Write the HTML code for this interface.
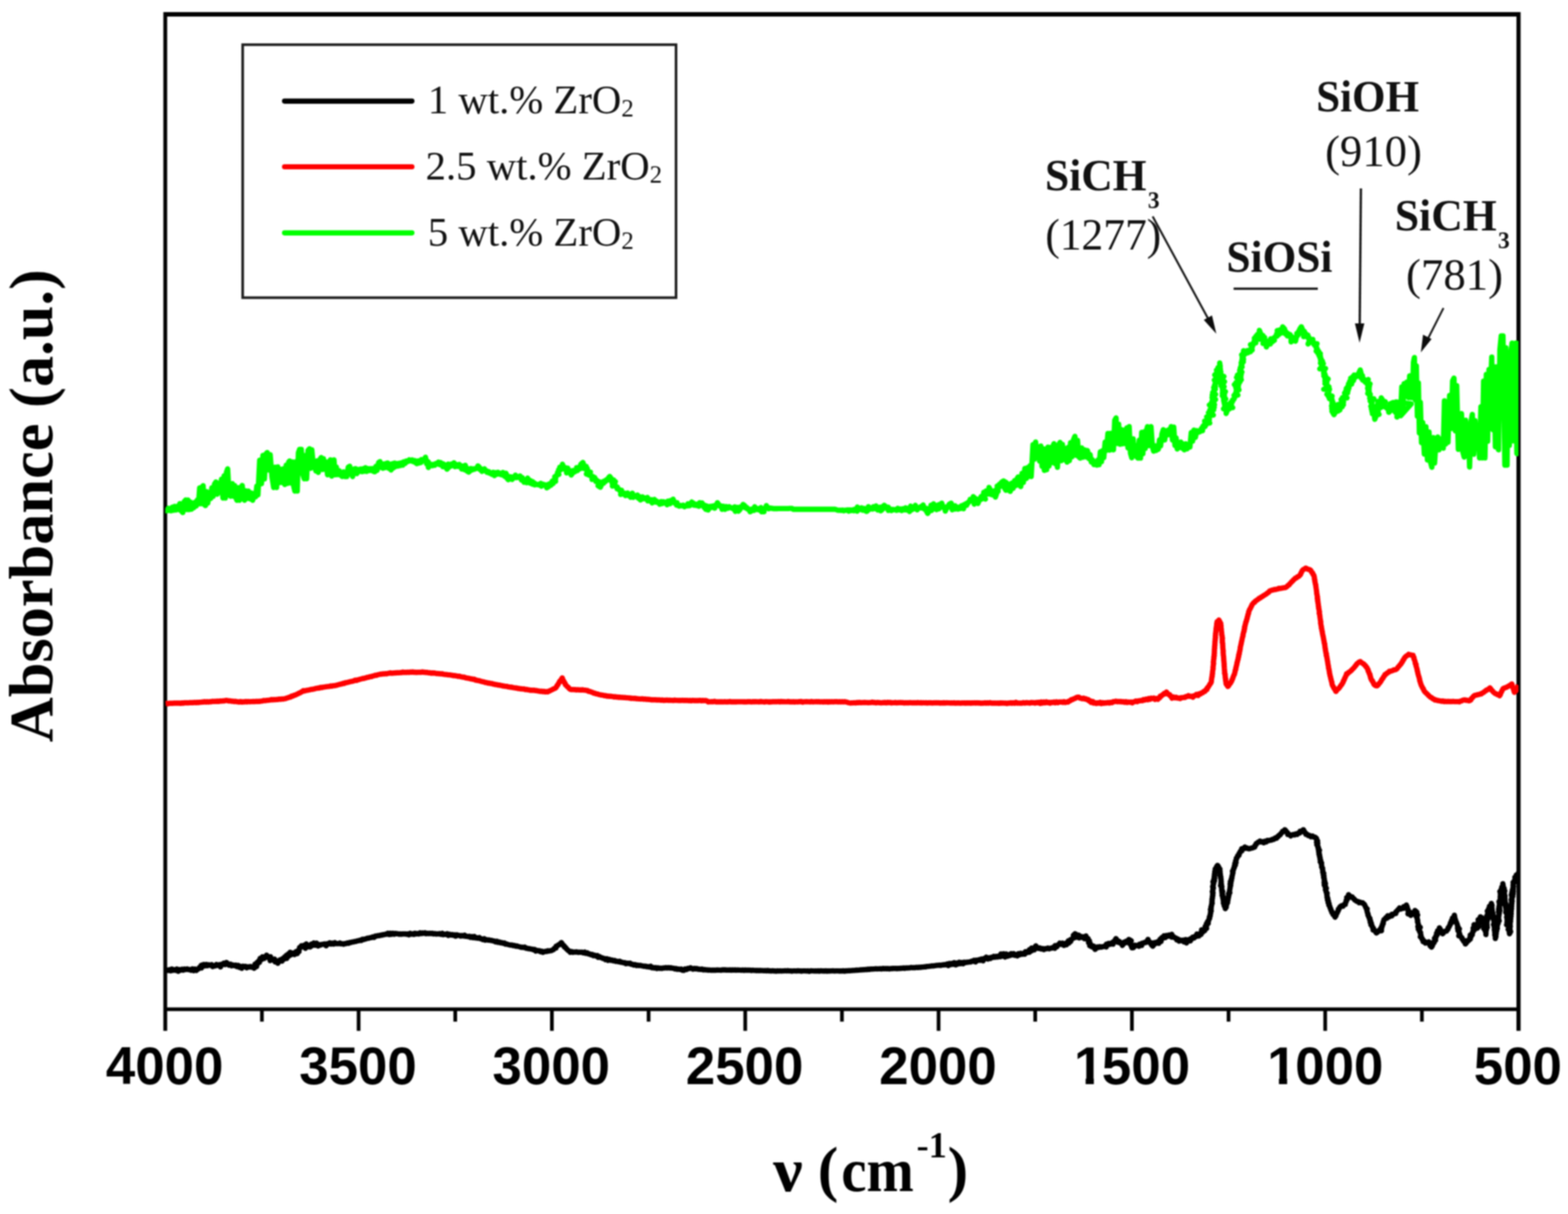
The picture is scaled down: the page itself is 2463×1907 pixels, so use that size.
<!DOCTYPE html>
<html lang="en">
<head>
<meta charset="utf-8">
<title>FTIR absorbance spectra</title>
<style>
html,body{margin:0;padding:0;background:#fff;}
body{width:2463px;height:1907px;overflow:hidden;}
svg{display:block;filter:blur(0.9px);}
.sans{font-family:"Liberation Sans",Arial,sans-serif;font-weight:bold;}
.serif{font-family:"Liberation Serif","Times New Roman",serif;}
.b{font-weight:bold;}
</style>
</head>
<body>
<svg width="2463" height="1907" viewBox="0 0 2463 1907">
<rect x="0" y="0" width="2463" height="1907" fill="#fff"/>
<defs><clipPath id="plot"><rect x="259.6" y="0" width="2125.7" height="1700"/></clipPath></defs>
<!-- frame -->
<g fill="none" stroke="#000">
<line x1="259.6" y1="19.1" x2="259.6" y2="1619.3" stroke-width="6"/>
<line x1="2385.3" y1="19.1" x2="2385.3" y2="1619.3" stroke-width="6.5"/>
<line x1="259.6" y1="22.5" x2="2385.3" y2="22.5" stroke-width="6.9"/>
<line x1="259.6" y1="1585.4" x2="2385.3" y2="1585.4" stroke-width="5.8"/>
</g>
<g fill="none" stroke="#000" stroke-width="5.8">
<line x1="411.4" y1="1585.4" x2="411.4" y2="1604.8"/>
<line x1="563.3" y1="1585.4" x2="563.3" y2="1619.3"/>
<line x1="715.1" y1="1585.4" x2="715.1" y2="1604.8"/>
<line x1="866.9" y1="1585.4" x2="866.9" y2="1619.3"/>
<line x1="1018.8" y1="1585.4" x2="1018.8" y2="1604.8"/>
<line x1="1170.6" y1="1585.4" x2="1170.6" y2="1619.3"/>
<line x1="1322.5" y1="1585.4" x2="1322.5" y2="1604.8"/>
<line x1="1474.3" y1="1585.4" x2="1474.3" y2="1619.3"/>
<line x1="1626.1" y1="1585.4" x2="1626.1" y2="1604.8"/>
<line x1="1778.0" y1="1585.4" x2="1778.0" y2="1619.3"/>
<line x1="1929.8" y1="1585.4" x2="1929.8" y2="1604.8"/>
<line x1="2081.6" y1="1585.4" x2="2081.6" y2="1619.3"/>
<line x1="2233.5" y1="1585.4" x2="2233.5" y2="1604.8"/>
</g>
<!-- curves -->
<g clip-path="url(#plot)" fill="none" stroke-linejoin="round" stroke-linecap="butt" stroke-width="8.3">
<path id="c-green" stroke="#00ff00" d="M259.1 798.6 L260.7 802.1 L262.3 802.4 L264.5 798.3 L266.6 802.0 L268.7 802.4 L270.6 796.6 L272.4 801.5 L274.2 795.5 L276.1 801.2 L277.9 795.3 L280.2 800.5 L282.5 791.1 L284.8 802.7 L287.1 805.2 L289.3 788.0 L291.6 785.5 L293.5 800.4 L295.3 785.5 L297.1 800.5 L299.0 788.6 L300.8 799.8 L302.6 791.0 L304.5 797.5 L306.3 789.0 L308.1 794.9 L309.9 785.5 L311.8 791.5 L313.6 766.5 L315.4 791.3 L317.3 765.1 L319.1 763.0 L320.9 792.7 L322.8 794.2 L324.6 772.3 L326.4 790.2 L328.7 773.8 L331.0 783.0 L332.8 766.2 L334.7 779.7 L337.0 760.3 L339.2 757.1 L341.1 776.3 L342.9 759.6 L345.7 773.4 L347.9 752.7 L350.2 782.3 L352.1 747.4 L353.9 782.3 L355.7 741.8 L357.6 736.5 L359.9 777.5 L362.1 779.5 L364.9 759.6 L366.7 779.6 L368.6 762.8 L370.4 781.4 L372.2 785.9 L374.0 766.1 L375.9 785.9 L378.2 766.0 L380.5 762.6 L382.3 782.5 L384.1 785.9 L386.0 771.0 L387.8 783.2 L390.1 771.3 L392.4 783.7 L394.7 774.3 L396.9 785.9 L399.2 775.1 L401.5 780.5 L403.4 763.6 L405.2 777.4 L407.9 722.8 L410.7 759.8 L413.0 715.4 L415.3 752.4 L417.5 713.5 L419.8 710.8 L422.1 738.3 L424.4 714.3 L427.2 749.0 L429.9 765.8 L432.2 733.8 L434.5 765.8 L436.3 733.5 L438.2 758.2 L440.4 737.1 L442.7 757.8 L445.0 736.4 L447.3 761.0 L449.6 730.6 L451.9 759.4 L453.4 725.8 L455.0 724.1 L457.3 758.9 L459.6 725.7 L461.4 764.0 L463.2 771.4 L465.1 725.2 L466.9 771.4 L468.7 711.3 L470.6 705.9 L473.3 705.9 L475.6 744.5 L477.9 752.1 L479.7 715.5 L481.6 752.1 L483.8 707.5 L486.1 704.9 L488.0 735.6 L489.8 706.7 L492.5 734.3 L494.4 728.7 L496.2 739.9 L498.0 724.0 L499.9 742.0 L502.2 722.2 L504.5 718.7 L506.3 737.5 L508.1 720.6 L509.9 737.1 L512.2 725.5 L514.5 745.8 L516.8 725.8 L519.1 722.3 L520.9 747.8 L522.8 724.6 L524.6 722.3 L526.4 745.9 L528.3 733.6 L530.5 745.6 L532.8 739.4 L535.1 746.4 L537.4 748.5 L539.7 741.2 L542.0 748.5 L544.7 748.5 L547.0 734.0 L549.3 732.4 L551.6 744.3 L553.9 748.5 L556.2 736.8 L558.5 736.1 L560.6 744.0 L562.8 737.5 L564.9 740.6 L566.7 736.7 L568.6 741.0 L570.4 736.2 L572.2 740.3 L574.0 734.7 L575.9 740.6 L577.7 736.0 L579.5 739.4 L581.4 736.2 L583.2 739.1 L585.0 736.1 L586.9 740.5 L588.7 741.1 L590.5 732.4 L592.4 738.8 L594.7 726.7 L596.9 725.1 L599.2 734.4 L601.5 735.6 L603.4 728.7 L605.2 734.5 L607.0 727.8 L608.8 727.4 L610.7 735.7 L612.5 729.3 L614.3 738.4 L616.2 728.4 L618.0 735.1 L619.8 727.4 L621.7 732.9 L623.5 728.1 L625.3 732.2 L627.2 727.6 L629.0 731.3 L630.8 726.8 L632.7 730.7 L634.5 725.3 L636.3 728.1 L638.2 724.2 L640.4 725.1 L642.7 722.3 L645.0 724.1 L647.3 722.3 L649.2 725.3 L651.2 723.3 L653.1 727.2 L655.0 728.3 L657.0 724.0 L659.0 727.2 L661.6 726.3 L661.9 721.8 L665.0 723.8 L666.3 721.7 L668.3 718.2 L669.4 722.7 L669.8 724.6 L672.6 725.2 L670.1 728.6 L672.4 729.4 L672.9 734.3 L674.9 731.0 L676.6 729.1 L679.1 731.7 L680.7 729.5 L683.0 730.9 L684.5 728.2 L686.6 728.5 L688.7 725.8 L690.2 729.8 L692.3 726.6 L693.8 731.0 L696.3 728.7 L695.7 733.2 L699.8 730.5 L700.1 733.6 L702.2 737.0 L704.5 734.5 L703.8 729.0 L707.6 732.4 L708.7 729.0 L710.6 731.4 L713.0 727.0 L714.8 733.1 L717.0 729.7 L719.0 732.8 L721.3 729.5 L723.0 731.8 L725.3 732.0 L725.1 736.8 L730.9 730.9 L729.7 737.8 L733.2 734.9 L733.3 739.8 L736.1 741.6 L738.3 740.0 L739.4 736.0 L741.8 738.2 L743.3 736.4 L745.4 737.0 L747.1 735.9 L749.0 735.8 L750.7 731.9 L753.1 734.1 L754.0 737.6 L756.3 736.8 L757.1 740.5 L760.9 736.3 L761.7 739.6 L764.1 739.3 L765.1 742.0 L767.8 740.9 L769.0 743.3 L770.8 743.6 L772.8 745.1 L774.4 741.8 L776.6 747.2 L778.1 742.4 L780.2 745.0 L782.1 741.9 L783.5 744.7 L785.7 743.5 L787.1 745.6 L789.9 742.1 L790.7 746.9 L794.8 743.4 L793.1 748.6 L796.7 746.8 L796.0 750.6 L798.4 753.5 L800.2 750.6 L801.9 749.0 L804.4 753.1 L805.7 749.2 L807.8 750.7 L809.6 746.3 L811.0 750.3 L813.0 748.6 L814.7 750.2 L816.8 747.6 L818.3 749.7 L820.6 750.5 L819.1 754.1 L822.9 753.6 L823.2 757.6 L825.1 755.8 L827.3 758.4 L828.8 751.0 L831.2 756.0 L833.3 754.9 L832.8 759.2 L836.6 756.6 L836.3 760.6 L839.6 758.7 L840.0 761.6 L842.2 760.8 L844.1 761.4 L845.9 760.8 L847.9 762.3 L849.5 759.2 L850.4 763.8 L853.5 760.8 L855.1 762.0 L857.3 761.7 L858.8 766.3 L861.8 764.4 L862.1 760.5 L865.4 762.3 L865.7 758.3 L868.8 759.6 L867.5 755.8 L872.8 756.2 L870.8 753.0 L872.8 751.7 L871.4 748.8 L873.9 747.8 L874.5 745.8 L877.9 745.3 L875.9 742.1 L877.6 740.8 L877.4 738.0 L880.8 738.1 L879.3 734.0 L884.0 735.4 L883.5 729.2 L885.0 733.2 L886.0 734.8 L888.5 734.7 L888.0 738.1 L891.8 735.3 L890.0 742.9 L894.7 739.0 L895.3 742.2 L897.3 746.2 L899.5 743.1 L899.9 739.1 L903.0 741.1 L904.0 738.2 L907.0 739.3 L905.7 734.6 L910.5 736.7 L910.2 733.1 L915.2 735.5 L912.4 729.1 L915.6 726.5 L917.1 730.7 L917.0 733.1 L920.8 732.6 L918.9 736.3 L922.6 736.0 L921.7 739.0 L923.8 739.7 L921.1 744.6 L927.5 741.6 L925.0 746.4 L928.0 746.3 L928.7 748.3 L931.1 748.3 L930.0 753.2 L934.2 750.2 L934.4 753.3 L936.4 753.5 L936.0 756.4 L939.3 756.0 L939.6 758.2 L942.4 758.2 L939.5 763.0 L943.0 765.4 L944.9 761.4 L944.0 757.3 L948.3 758.9 L948.4 756.0 L951.0 756.4 L952.1 754.0 L954.4 754.1 L955.3 751.2 L957.7 748.4 L960.2 751.8 L959.7 754.8 L963.8 753.8 L961.4 758.6 L966.7 756.5 L961.9 763.5 L966.5 762.1 L967.0 764.5 L969.6 765.0 L969.5 768.0 L972.1 768.4 L973.0 770.4 L976.4 770.1 L974.9 776.7 L978.0 773.6 L979.2 776.1 L981.7 774.8 L982.5 778.5 L985.9 774.4 L986.7 778.3 L988.9 777.2 L990.5 781.2 L993.4 774.7 L994.6 781.3 L997.0 778.8 L998.9 780.2 L1001.3 777.6 L1002.7 782.6 L1005.1 780.4 L1005.9 785.4 L1009.2 780.5 L1010.3 783.6 L1012.7 782.2 L1014.3 783.7 L1016.9 781.3 L1017.4 786.8 L1020.0 784.4 L1021.2 787.2 L1023.9 784.8 L1024.4 790.1 L1027.9 784.5 L1028.8 788.6 L1031.1 787.2 L1032.5 789.3 L1034.6 788.8 L1036.4 792.2 L1038.5 787.8 L1040.3 791.0 L1042.4 788.2 L1044.2 790.0 L1046.2 788.6 L1047.9 792.9 L1049.1 787.2 L1052.5 791.3 L1052.9 786.3 L1055.9 789.0 L1057.3 784.1 L1058.9 788.5 L1060.0 790.4 L1063.5 789.6 L1062.7 793.5 L1064.7 792.9 L1066.8 795.1 L1068.9 793.9 L1071.1 794.6 L1073.2 793.5 L1075.3 795.9 L1077.4 794.4 L1079.5 794.6 L1080.6 791.3 L1083.4 794.4 L1084.6 791.6 L1086.6 788.7 L1088.8 790.2 L1090.1 793.6 L1092.2 792.2 L1093.8 794.2 L1095.6 791.8 L1097.8 795.3 L1099.1 789.6 L1101.3 793.7 L1102.9 790.0 L1103.7 794.5 L1106.6 793.5 L1106.2 797.3 L1110.1 794.7 L1108.8 800.0 L1112.3 801.1 L1114.3 798.1 L1115.5 795.4 L1118.1 797.2 L1119.4 794.8 L1122.7 798.3 L1123.2 794.0 L1125.4 794.2 L1126.9 789.6 L1129.2 792.9 L1130.5 795.1 L1133.1 794.9 L1134.2 800.1 L1136.4 795.2 L1138.6 800.1 L1140.8 795.7 L1143.0 798.5 L1145.5 795.9 L1147.3 797.7 L1149.5 797.7 L1151.4 799.2 L1154.1 796.1 L1155.0 803.3 L1158.2 797.0 L1159.9 803.0 L1162.5 800.2 L1162.9 796.4 L1165.4 796.6 L1167.2 792.4 L1169.9 794.3 L1170.7 797.6 L1173.2 797.1 L1174.2 799.8 L1176.5 799.6 L1178.2 803.9 L1180.5 802.6 L1181.7 799.4 L1184.2 801.8 L1185.5 796.0 L1187.4 799.1 L1189.1 800.4 L1191.2 799.0 L1192.7 801.3 L1195.2 797.2 L1196.5 803.9 L1200.1 803.8 L1200.1 798.8 L1202.2 798.6 L1203.8 794.2 L1205.7 797.2 L1207.3 799.1 L1209.4 797.8 L1211.2 798.5 L1213.0 798.5 L1214.8 799.0 L1216.8 799.0 L1218.7 799.0 L1220.7 799.0 L1222.6 798.9 L1224.6 798.9 L1226.6 798.9 L1228.5 798.9 L1230.5 798.9 L1232.4 798.8 L1234.4 798.8 L1236.3 798.8 L1238.3 798.8 L1240.2 798.7 L1242.2 798.7 L1244.1 798.7 L1246.0 800.0 L1248.0 800.0 L1250.0 800.0 L1252.0 800.0 L1254.0 800.0 L1256.0 800.0 L1258.0 800.0 L1260.0 800.0 L1262.0 800.0 L1264.0 800.0 L1266.0 800.0 L1267.9 800.0 L1269.9 800.0 L1271.9 800.0 L1273.9 800.0 L1275.9 800.0 L1277.9 800.0 L1279.9 800.0 L1281.9 800.0 L1283.9 800.0 L1285.9 800.0 L1287.9 800.0 L1289.9 800.0 L1291.9 800.0 L1293.9 800.0 L1295.9 800.0 L1297.9 800.0 L1299.9 800.0 L1301.9 800.0 L1303.9 800.0 L1305.9 800.0 L1307.9 800.0 L1309.9 800.0 L1311.9 800.0 L1313.7 800.7 L1315.6 801.4 L1317.5 801.6 L1319.5 801.4 L1321.5 801.8 L1323.4 801.2 L1325.4 802.3 L1327.3 801.3 L1329.3 801.7 L1331.3 801.0 L1333.2 803.0 L1335.2 800.9 L1337.2 802.1 L1339.1 800.9 L1341.1 802.3 L1342.3 800.1 L1346.5 803.0 L1346.7 796.5 L1348.8 799.0 L1350.8 800.3 L1353.2 797.6 L1354.9 801.5 L1357.4 798.7 L1359.1 802.3 L1361.4 803.4 L1363.4 801.6 L1364.1 795.8 L1366.9 799.6 L1368.6 798.7 L1370.8 799.7 L1371.9 796.0 L1374.5 799.0 L1376.0 794.7 L1378.0 797.4 L1378.8 801.2 L1382.4 796.7 L1383.3 802.5 L1386.1 800.3 L1386.1 796.1 L1388.8 793.8 L1391.3 795.8 L1392.4 798.4 L1395.4 796.7 L1395.3 801.8 L1397.9 799.5 L1400.1 802.1 L1402.0 800.1 L1404.1 800.8 L1406.1 800.4 L1408.2 801.7 L1410.1 798.5 L1412.3 801.0 L1414.2 799.3 L1416.4 802.1 L1418.3 799.1 L1420.4 801.0 L1422.3 797.7 L1424.5 801.3 L1426.4 798.6 L1428.7 803.6 L1430.4 795.0 L1432.6 800.7 L1434.4 797.2 L1436.6 799.2 L1437.9 793.7 L1440.7 800.9 L1442.3 797.7 L1444.2 798.0 L1446.0 796.0 L1448.1 798.1 L1450.0 793.2 L1451.7 797.9 L1452.5 800.0 L1455.6 798.6 L1455.0 802.7 L1457.3 806.5 L1459.5 802.8 L1460.1 798.6 L1463.4 801.9 L1462.4 793.5 L1466.6 799.0 L1466.4 791.5 L1471.1 800.5 L1471.1 794.0 L1474.8 799.4 L1474.8 792.7 L1477.9 796.4 L1479.3 790.3 L1480.7 795.4 L1481.6 797.2 L1484.2 796.7 L1484.8 802.9 L1486.9 798.5 L1487.9 795.7 L1490.4 796.4 L1490.8 792.2 L1494.0 790.3 L1495.8 794.9 L1495.8 800.9 L1500.2 794.5 L1500.4 799.7 L1503.1 796.5 L1504.9 799.9 L1506.8 796.6 L1508.6 798.8 L1510.4 794.4 L1513.5 799.2 L1513.0 796.1 L1515.0 795.5 L1514.6 792.5 L1518.4 793.7 L1518.3 791.0 L1520.2 790.9 L1521.3 788.3 L1523.3 787.6 L1524.0 784.3 L1528.4 788.1 L1528.8 780.2 L1531.4 782.6 L1530.3 792.0 L1535.0 784.1 L1536.1 791.0 L1538.1 786.1 L1538.8 783.8 L1541.9 784.1 L1541.0 780.1 L1547.9 784.0 L1544.1 777.6 L1546.1 776.8 L1545.2 773.3 L1551.0 776.2 L1549.0 771.1 L1555.3 776.3 L1553.5 765.6 L1555.9 769.9 L1555.9 773.4 L1560.1 771.3 L1558.8 777.4 L1562.6 773.9 L1563.6 780.9 L1565.5 775.4 L1564.4 772.8 L1567.9 771.8 L1565.2 768.7 L1568.2 767.5 L1566.3 763.4 L1569.7 765.0 L1569.8 760.7 L1572.8 761.9 L1573.0 757.8 L1576.4 755.5 L1580.9 758.3 L1576.6 764.6 L1580.0 770.1 L1582.3 759.9 L1584.6 769.7 L1586.9 771.9 L1589.2 758.8 L1591.4 767.3 L1593.7 754.9 L1595.6 762.8 L1597.4 752.4 L1599.2 749.2 L1601.3 761.7 L1603.4 764.3 L1605.4 743.4 L1607.5 757.8 L1609.8 735.9 L1612.1 751.6 L1614.3 734.3 L1616.2 748.3 L1618.0 731.4 L1619.8 748.6 L1622.6 698.4 L1624.6 721.4 L1626.7 694.3 L1628.8 714.8 L1630.8 702.1 L1632.9 724.3 L1634.9 700.7 L1636.8 732.6 L1638.6 704.9 L1640.4 738.9 L1642.3 706.7 L1644.1 737.9 L1645.9 702.5 L1647.8 732.0 L1649.6 702.8 L1651.4 726.9 L1653.5 702.7 L1655.5 697.0 L1657.4 728.5 L1659.2 700.8 L1661.0 734.1 L1663.1 698.2 L1665.2 694.9 L1667.0 723.7 L1668.8 698.1 L1670.7 721.8 L1672.5 704.1 L1674.3 722.4 L1676.2 725.9 L1678.0 702.7 L1679.8 723.5 L1681.6 695.3 L1683.9 717.5 L1686.2 690.9 L1688.5 685.3 L1690.6 715.3 L1692.6 691.9 L1694.7 717.7 L1696.8 719.7 L1699.0 703.7 L1701.3 718.3 L1703.6 706.6 L1705.9 717.9 L1708.2 707.7 L1710.5 720.6 L1712.3 713.9 L1714.2 725.8 L1716.0 722.3 L1718.3 729.8 L1720.6 725.5 L1722.9 730.7 L1724.7 722.5 L1726.5 730.0 L1728.4 709.6 L1730.2 725.2 L1732.0 707.8 L1733.8 718.8 L1735.9 694.5 L1738.0 707.4 L1740.3 680.8 L1742.5 707.1 L1744.8 680.6 L1746.9 706.2 L1749.0 706.6 L1751.0 660.3 L1753.1 656.5 L1755.1 696.6 L1757.2 666.5 L1759.3 697.8 L1761.3 674.8 L1763.6 697.1 L1765.9 675.7 L1768.2 697.0 L1770.0 672.1 L1771.8 703.6 L1773.7 670.2 L1775.7 711.8 L1777.8 719.0 L1779.9 689.3 L1781.9 714.7 L1783.8 699.9 L1785.6 717.5 L1787.4 719.7 L1789.5 691.3 L1791.5 719.7 L1793.4 679.1 L1795.2 712.8 L1797.0 678.5 L1798.9 704.5 L1800.7 676.9 L1802.5 670.2 L1804.4 700.0 L1806.2 671.7 L1808.0 670.2 L1810.1 701.2 L1812.1 708.7 L1814.0 700.2 L1815.8 707.7 L1817.6 700.2 L1819.5 705.8 L1821.3 690.9 L1823.1 700.4 L1825.2 681.5 L1827.3 675.0 L1829.5 691.1 L1831.8 676.6 L1834.1 683.1 L1836.0 675.0 L1837.8 682.6 L1839.6 670.2 L1841.7 691.3 L1843.7 671.0 L1845.6 699.8 L1847.4 687.9 L1849.2 705.3 L1851.1 695.1 L1852.9 702.9 L1854.7 694.3 L1856.6 703.9 L1858.4 697.2 L1860.2 706.6 L1862.5 697.1 L1864.8 705.0 L1867.1 698.0 L1869.1 702.3 L1871.2 679.4 L1873.3 693.0 L1875.3 675.7 L1877.7 687.1 L1880.0 676.5 L1882.3 678.9 L1884.8 678.3 L1885.1 676.1 L1889.0 676.5 L1887.3 672.8 L1889.7 672.3 L1889.5 669.5 L1893.0 670.0 L1892.0 666.5 L1895.1 666.6 L1892.2 661.4 L1900.3 664.5 L1895.6 659.6 L1899.7 659.5 L1895.4 654.8 L1900.2 655.1 L1899.2 652.2 L1906.0 652.0 L1898.2 648.3 L1904.2 647.4 L1900.2 644.5 L1906.5 643.7 L1901.7 640.7 L1907.4 639.7 L1899.6 636.1 L1907.8 635.6 L1902.9 632.5 L1907.0 631.2 L1904.2 628.8 L1909.4 627.5 L1903.8 624.6 L1907.2 623.2 L1904.1 620.7 L1909.5 619.5 L1904.8 616.7 L1907.3 615.1 L1906.7 613.0 L1909.1 611.4 L1906.4 608.9 L1909.2 607.3 L1907.8 605.1 L1909.0 603.3 L1908.8 601.2 L1910.5 599.5 L1907.4 597.0 L1913.1 595.9 L1910.0 593.3 L1911.3 591.5 L1908.0 589.0 L1911.9 587.6 L1910.9 585.4 L1912.0 583.6 L1910.9 581.4 L1913.0 580.2 L1913.2 577.6 L1916.0 576.9 L1915.9 570.1 L1916.8 576.0 L1913.6 578.6 L1917.1 580.0 L1915.8 582.3 L1917.7 584.0 L1916.4 586.2 L1918.2 588.0 L1916.5 590.3 L1922.6 591.3 L1917.8 594.2 L1921.0 595.6 L1919.4 597.9 L1923.5 599.5 L1916.7 602.1 L1921.6 603.6 L1917.9 605.9 L1922.9 607.4 L1919.9 609.7 L1920.9 611.5 L1920.3 613.5 L1924.9 615.1 L1920.0 617.5 L1923.5 619.1 L1919.9 621.4 L1923.6 623.0 L1921.8 625.2 L1925.4 626.8 L1922.1 629.1 L1922.8 631.1 L1922.9 633.2 L1925.8 634.7 L1923.8 637.4 L1925.6 639.1 L1921.8 642.2 L1926.6 643.2 L1926.0 649.5 L1927.9 644.7 L1927.8 641.8 L1931.1 642.3 L1930.9 639.5 L1936.4 640.4 L1930.5 634.8 L1934.5 634.7 L1933.6 631.8 L1936.1 630.9 L1935.9 628.4 L1938.2 627.4 L1938.8 625.4 L1939.9 623.6 L1938.4 621.1 L1944.5 620.6 L1940.8 617.4 L1942.5 615.8 L1941.8 613.4 L1946.2 612.5 L1941.2 609.0 L1945.2 608.0 L1938.9 604.1 L1945.8 603.9 L1941.5 600.9 L1947.8 600.0 L1944.6 597.4 L1949.9 596.4 L1942.3 592.9 L1949.3 592.2 L1943.7 589.2 L1949.8 588.3 L1947.1 585.7 L1950.8 584.4 L1947.2 581.7 L1949.0 580.0 L1948.2 577.9 L1951.1 576.4 L1949.5 574.0 L1950.9 572.2 L1949.6 569.9 L1953.1 568.4 L1950.6 565.9 L1953.4 564.3 L1951.2 561.8 L1952.9 560.0 L1950.3 557.5 L1952.9 557.4 L1953.4 550.9 L1956.4 555.8 L1958.0 554.2 L1960.1 554.2 L1959.1 550.7 L1964.2 552.6 L1963.4 549.2 L1967.0 549.8 L1965.8 546.1 L1967.3 544.8 L1964.2 541.4 L1968.8 541.2 L1968.5 539.0 L1972.7 538.6 L1970.1 535.4 L1973.3 534.6 L1970.3 531.3 L1973.1 530.5 L1972.9 527.9 L1976.4 528.5 L1975.3 525.2 L1978.3 525.3 L1978.2 518.8 L1980.3 524.0 L1977.5 528.5 L1983.7 526.8 L1978.6 532.8 L1986.5 530.1 L1983.6 534.6 L1987.7 534.5 L1983.9 539.6 L1989.0 538.7 L1989.2 545.1 L1991.3 540.9 L1991.6 536.5 L1995.5 540.3 L1996.2 537.2 L1998.7 536.9 L1995.9 532.2 L2001.8 534.7 L2000.3 531.1 L2002.4 530.6 L2003.3 528.5 L2005.9 528.2 L2005.3 524.5 L2009.0 525.5 L2006.2 519.3 L2012.3 523.2 L2010.4 518.2 L2014.3 519.6 L2014.8 513.3 L2017.9 517.0 L2015.6 522.6 L2019.9 521.0 L2019.3 524.7 L2023.0 523.8 L2022.1 527.6 L2026.5 525.6 L2026.1 528.9 L2028.1 528.0 L2028.0 537.1 L2031.5 530.2 L2032.4 534.9 L2035.0 536.0 L2036.2 530.3 L2036.6 528.2 L2038.6 527.0 L2037.0 523.8 L2040.1 523.1 L2039.9 520.3 L2043.1 521.3 L2041.6 517.1 L2044.1 513.3 L2046.2 517.9 L2044.0 523.3 L2049.0 520.7 L2048.9 523.3 L2051.1 524.1 L2047.7 528.9 L2054.4 526.3 L2053.3 529.5 L2055.9 529.9 L2055.9 532.2 L2057.9 532.5 L2054.7 540.3 L2062.2 533.2 L2061.3 537.8 L2063.5 538.0 L2063.8 541.0 L2068.8 539.8 L2065.9 543.4 L2068.0 544.7 L2067.7 547.0 L2069.3 548.4 L2067.4 551.6 L2071.4 551.8 L2069.8 554.5 L2074.0 555.4 L2071.7 558.2 L2074.2 559.6 L2073.4 562.0 L2075.3 563.6 L2074.4 566.0 L2077.3 567.3 L2074.1 570.4 L2078.7 571.2 L2075.6 574.2 L2077.5 575.8 L2073.0 579.4 L2082.2 578.8 L2078.6 582.0 L2080.2 583.7 L2079.2 586.2 L2081.2 587.8 L2079.4 590.5 L2082.8 591.7 L2081.1 594.4 L2086.3 595.3 L2081.1 598.5 L2084.4 599.9 L2081.2 602.6 L2084.6 604.0 L2084.2 606.2 L2087.6 607.6 L2079.3 611.4 L2088.5 611.6 L2084.7 614.5 L2087.3 615.7 L2084.2 619.4 L2088.0 619.8 L2086.6 622.7 L2092.5 622.1 L2088.2 626.3 L2092.3 626.6 L2091.6 629.1 L2093.4 630.8 L2092.3 633.2 L2095.1 634.7 L2091.5 637.6 L2095.0 639.0 L2091.8 641.8 L2094.9 643.2 L2092.2 646.0 L2095.4 651.4 L2097.9 647.2 L2096.2 642.4 L2101.8 645.8 L2100.5 641.1 L2104.7 643.9 L2102.1 635.3 L2108.3 639.0 L2105.7 635.8 L2110.3 635.6 L2106.9 632.1 L2110.5 631.4 L2106.6 627.7 L2110.6 627.2 L2108.8 624.4 L2115.9 625.0 L2112.4 621.7 L2114.5 620.4 L2112.0 617.4 L2116.9 617.2 L2113.9 614.0 L2117.7 613.4 L2114.7 610.2 L2119.0 609.7 L2117.1 606.9 L2119.8 606.0 L2118.2 602.9 L2123.2 603.3 L2120.0 599.1 L2124.6 599.4 L2121.6 594.2 L2126.2 597.7 L2124.5 592.0 L2127.9 593.7 L2127.1 589.2 L2130.9 591.5 L2131.5 588.8 L2135.0 589.9 L2134.5 585.7 L2136.6 581.1 L2138.1 586.6 L2138.1 589.0 L2140.2 590.1 L2138.0 593.7 L2141.3 594.2 L2140.4 597.0 L2143.8 596.7 L2144.3 600.1 L2149.2 596.2 L2146.5 601.9 L2152.1 603.0 L2148.5 605.7 L2151.1 607.3 L2148.2 609.9 L2150.7 611.5 L2149.1 613.8 L2150.9 615.5 L2148.4 618.1 L2152.4 619.4 L2151.3 621.7 L2152.5 623.5 L2151.5 625.8 L2158.2 626.5 L2152.2 629.9 L2155.5 631.3 L2154.2 633.7 L2155.2 635.6 L2153.2 638.2 L2159.7 638.9 L2154.1 642.4 L2157.2 643.4 L2154.9 646.2 L2159.2 646.8 L2155.7 649.9 L2159.0 650.9 L2158.8 652.9 L2159.5 658.7 L2161.6 653.4 L2159.7 650.6 L2166.3 651.0 L2161.9 647.3 L2164.9 646.4 L2162.8 643.6 L2164.3 642.0 L2162.7 639.4 L2168.8 640.3 L2163.9 635.3 L2168.1 635.3 L2164.2 630.7 L2170.1 631.6 L2169.6 625.0 L2172.3 629.3 L2170.0 633.5 L2176.1 631.0 L2172.6 636.1 L2175.0 636.7 L2175.3 639.0 L2178.1 638.7 L2178.4 641.4 L2180.5 641.9 L2181.5 647.7 L2184.9 644.3 L2182.4 639.1 L2186.7 640.7 L2183.3 634.6 L2187.9 632.4 L2190.9 637.1 L2187.2 641.2 L2192.4 640.9 L2188.8 644.8 L2194.0 644.5 L2191.9 647.8 L2194.8 648.6 L2194.3 655.0 L2195.6 649.4 L2194.1 647.0 L2199.0 646.5 L2195.9 643.6 L2198.1 642.3 L2197.1 639.9 L2201.0 639.2 L2197.9 636.2 L2200.9 635.0 L2192.8 631.3 L2216.7 634.4 L2200.0 653.2 L2201.9 607.6 L2203.7 639.5 L2205.6 602.6 L2207.5 616.9 L2209.9 600.1 L2212.4 624.6 L2214.3 590.4 L2216.1 624.6 L2218.6 624.6 L2220.2 569.0 L2221.7 561.6 L2223.3 628.7 L2224.8 575.0 L2226.4 654.1 L2228.0 601.6 L2229.5 680.3 L2231.1 632.1 L2232.9 695.6 L2234.8 663.8 L2237.3 713.3 L2239.8 670.5 L2242.2 722.7 L2244.7 678.7 L2246.9 725.5 L2249.1 734.0 L2251.2 687.5 L2253.4 727.4 L2255.9 691.0 L2258.4 686.4 L2260.2 706.7 L2262.1 689.5 L2264.6 696.7 L2267.1 704.1 L2268.9 629.6 L2270.8 697.5 L2272.7 631.8 L2274.5 694.7 L2277.0 621.1 L2279.5 673.2 L2281.7 598.3 L2283.9 593.9 L2286.0 676.9 L2288.2 606.0 L2290.7 705.9 L2293.2 656.2 L2295.7 649.6 L2297.8 710.0 L2299.9 718.0 L2302.1 660.1 L2304.2 713.5 L2306.3 667.3 L2308.4 733.6 L2310.6 662.6 L2312.7 651.0 L2314.8 713.5 L2317.0 660.9 L2319.1 701.2 L2321.2 669.3 L2324.0 719.4 L2326.2 638.8 L2328.3 719.4 L2330.4 598.6 L2332.6 719.4 L2334.7 588.1 L2336.8 693.1 L2338.9 580.3 L2340.8 622.0 L2343.2 560.9 L2345.0 675.0 L2346.7 576.2 L2348.9 702.0 L2351.0 576.5 L2353.8 706.6 L2356.0 549.5 L2358.1 527.6 L2360.9 527.6 L2363.8 730.7 L2365.5 546.3 L2367.3 730.7 L2369.1 570.4 L2370.9 699.8 L2373.0 558.7 L2375.1 538.9 L2377.0 692.5 L2378.9 543.7 L2380.8 538.9 L2382.7 712.5 L2384.6 539.4 L2386.5 627.7"/>
<path id="c-red" stroke="#ff0000" d="M260.1 1105.0 L262.1 1104.8 L264.0 1105.5 L266.0 1104.6 L268.0 1104.8 L270.0 1104.6 L271.9 1104.8 L273.9 1104.4 L275.9 1104.7 L277.9 1104.4 L279.9 1104.7 L281.8 1104.4 L283.8 1104.9 L285.8 1104.1 L287.8 1104.6 L289.7 1103.8 L291.8 1104.2 L293.7 1104.0 L295.7 1104.2 L297.7 1103.7 L299.7 1103.9 L301.7 1103.6 L303.7 1103.8 L305.7 1103.3 L307.7 1103.8 L309.6 1103.2 L311.6 1103.6 L313.6 1103.1 L315.6 1103.2 L317.6 1102.6 L319.6 1102.9 L321.5 1102.2 L323.6 1102.9 L325.5 1102.2 L327.6 1102.8 L329.6 1102.2 L331.6 1102.5 L333.6 1101.7 L335.6 1102.0 L337.6 1101.7 L339.7 1101.9 L341.7 1101.4 L343.7 1101.9 L345.7 1101.1 L347.7 1101.4 L349.7 1101.0 L351.8 1101.2 L353.7 1100.5 L355.8 1100.2 L357.8 1100.6 L359.8 1101.1 L361.8 1101.0 L363.8 1101.6 L365.8 1101.5 L367.8 1102.1 L369.9 1101.7 L371.9 1102.3 L373.9 1102.3 L375.9 1102.9 L377.9 1101.9 L380.0 1102.9 L382.0 1102.3 L384.0 1102.6 L386.0 1101.9 L388.0 1102.6 L390.0 1102.0 L392.0 1102.3 L394.0 1102.1 L396.1 1102.2 L398.1 1101.9 L400.1 1102.1 L402.1 1101.7 L404.1 1102.0 L406.1 1101.7 L408.2 1101.8 L410.2 1101.3 L412.2 1101.2 L414.1 1100.4 L416.2 1100.7 L418.2 1100.2 L420.2 1100.2 L422.2 1099.8 L424.3 1099.7 L426.3 1098.9 L428.3 1099.4 L430.3 1098.8 L432.3 1099.1 L434.3 1098.7 L436.4 1098.9 L438.3 1098.2 L440.4 1098.5 L442.4 1097.9 L444.4 1098.2 L446.3 1097.7 L448.4 1097.4 L450.3 1096.5 L452.4 1096.1 L454.2 1095.2 L456.4 1095.0 L458.0 1093.4 L460.2 1093.5 L462.0 1092.2 L464.1 1091.8 L465.8 1090.7 L467.7 1090.1 L469.4 1088.9 L471.4 1088.5 L473.0 1087.1 L474.9 1086.4 L476.5 1084.9 L478.6 1085.3 L480.5 1084.6 L482.5 1084.4 L484.4 1083.9 L486.4 1083.7 L488.2 1083.0 L490.2 1082.9 L492.1 1082.4 L494.1 1082.1 L496.0 1081.4 L498.0 1081.2 L499.8 1080.6 L501.9 1080.8 L503.7 1079.7 L505.7 1080.1 L507.6 1079.3 L509.6 1079.3 L511.5 1078.9 L513.5 1078.7 L515.4 1078.3 L517.4 1078.4 L519.2 1077.5 L521.2 1077.8 L523.1 1077.2 L525.1 1077.2 L527.0 1076.7 L529.0 1076.4 L530.9 1075.7 L532.8 1075.3 L534.7 1074.7 L536.7 1074.4 L538.6 1073.5 L540.6 1073.5 L542.4 1072.5 L544.5 1072.4 L546.4 1071.8 L548.3 1071.4 L550.2 1070.8 L552.2 1070.4 L554.1 1069.9 L556.1 1069.4 L557.9 1068.4 L560.1 1068.9 L561.9 1067.8 L563.8 1067.6 L565.7 1066.8 L567.7 1066.5 L569.6 1065.7 L571.7 1065.9 L573.5 1065.0 L575.4 1064.6 L577.3 1063.8 L579.4 1063.8 L581.4 1062.9 L583.5 1062.9 L585.4 1061.8 L587.5 1061.7 L589.4 1060.7 L591.6 1060.9 L593.5 1059.9 L595.5 1059.5 L597.5 1059.0 L599.5 1059.0 L601.4 1058.5 L603.4 1058.7 L605.3 1058.1 L607.4 1058.5 L609.3 1057.7 L611.2 1057.7 L613.2 1057.0 L615.2 1057.6 L617.1 1057.2 L619.0 1057.3 L621.0 1056.9 L622.9 1057.0 L624.8 1056.7 L626.8 1056.8 L628.7 1056.5 L630.6 1056.6 L632.6 1055.7 L634.5 1056.4 L636.4 1056.0 L638.4 1056.4 L640.3 1055.8 L642.3 1056.3 L644.2 1055.6 L646.1 1056.1 L648.1 1055.4 L650.0 1056.1 L652.0 1055.8 L653.9 1056.4 L655.8 1056.0 L657.8 1056.1 L659.7 1055.9 L661.6 1056.1 L663.6 1055.4 L665.5 1056.0 L667.5 1056.0 L669.4 1056.5 L671.3 1056.2 L673.2 1057.0 L675.2 1056.6 L677.1 1057.6 L679.1 1056.9 L681.0 1057.5 L683.0 1057.2 L684.9 1058.0 L686.8 1057.8 L688.7 1058.3 L690.7 1058.2 L692.6 1058.7 L694.6 1058.3 L696.5 1059.2 L698.4 1059.3 L700.4 1059.6 L702.3 1059.7 L704.2 1060.1 L706.2 1060.1 L708.1 1060.6 L710.1 1060.7 L712.0 1061.3 L714.0 1061.1 L715.9 1061.7 L717.8 1061.9 L719.7 1062.5 L721.8 1062.2 L723.6 1063.2 L725.6 1063.3 L727.5 1063.9 L729.5 1063.7 L731.3 1064.8 L733.3 1064.9 L735.2 1065.4 L737.2 1065.7 L739.1 1066.3 L741.1 1066.5 L743.0 1067.2 L745.1 1066.9 L746.8 1068.3 L748.8 1068.5 L750.7 1069.1 L752.8 1069.1 L754.6 1070.0 L756.6 1070.4 L758.5 1070.9 L760.5 1071.3 L762.3 1072.1 L764.4 1072.1 L766.2 1073.0 L768.3 1072.9 L770.2 1073.7 L772.3 1073.6 L774.2 1074.5 L776.2 1074.6 L778.1 1075.4 L780.2 1075.3 L782.1 1076.0 L784.1 1076.1 L786.1 1076.6 L788.1 1076.8 L790.0 1077.5 L792.1 1077.7 L794.0 1078.2 L796.1 1078.1 L798.0 1078.9 L800.0 1079.1 L801.9 1079.5 L803.9 1079.5 L805.8 1080.2 L807.7 1080.3 L809.7 1080.8 L811.6 1080.7 L813.5 1081.7 L815.5 1081.4 L817.4 1082.0 L819.4 1081.9 L821.3 1082.4 L823.3 1082.2 L825.1 1083.3 L827.2 1082.8 L829.0 1083.6 L831.0 1083.6 L832.9 1084.4 L834.9 1084.1 L836.8 1084.5 L838.8 1084.2 L840.7 1084.9 L842.6 1084.7 L844.5 1085.4 L846.5 1085.5 L848.4 1086.1 L850.4 1085.7 L852.4 1086.5 L854.4 1085.8 L856.4 1086.9 L858.4 1086.4 L860.5 1086.8 L862.2 1085.7 L864.1 1085.0 L865.8 1084.0 L867.7 1083.2 L869.4 1082.1 L871.3 1081.5 L873.0 1080.4 L874.2 1078.8 L875.0 1077.0 L876.4 1075.6 L877.2 1073.7 L878.4 1072.1 L879.1 1070.2 L880.8 1068.8 L881.8 1067.0 L883.1 1064.9 L884.0 1067.0 L884.4 1068.9 L885.8 1070.3 L886.2 1072.2 L887.7 1073.5 L888.0 1075.5 L889.7 1076.9 L891.0 1078.6 L892.8 1079.8 L894.1 1081.6 L895.7 1082.9 L897.6 1083.3 L899.6 1083.0 L901.5 1083.3 L903.5 1083.1 L905.4 1083.8 L907.3 1083.4 L909.2 1083.8 L911.2 1083.6 L913.1 1084.0 L915.1 1083.5 L917.0 1084.1 L918.9 1084.1 L920.7 1084.6 L922.9 1084.7 L924.6 1086.1 L926.8 1086.2 L928.7 1087.2 L930.7 1087.6 L932.5 1088.8 L934.6 1089.0 L936.5 1089.9 L938.6 1090.1 L940.6 1091.0 L942.7 1091.3 L944.8 1091.9 L946.9 1091.9 L948.9 1092.9 L951.1 1092.6 L953.0 1093.5 L955.0 1093.3 L956.9 1093.9 L958.9 1093.6 L960.8 1094.1 L962.7 1094.2 L964.6 1094.9 L966.6 1094.4 L968.5 1095.0 L970.5 1094.9 L972.4 1095.5 L974.4 1095.2 L976.3 1095.7 L978.2 1095.5 L980.1 1095.9 L982.1 1095.7 L984.0 1096.2 L986.0 1096.2 L987.9 1096.5 L989.9 1096.3 L991.7 1097.2 L993.7 1096.8 L995.6 1097.3 L997.6 1096.8 L999.5 1097.6 L1001.5 1097.5 L1003.4 1097.8 L1005.3 1097.8 L1007.3 1098.0 L1009.2 1097.7 L1011.1 1098.3 L1013.1 1098.0 L1015.0 1098.6 L1017.0 1098.3 L1018.9 1098.8 L1020.8 1098.7 L1022.8 1099.3 L1024.7 1099.1 L1026.6 1099.4 L1028.6 1099.2 L1030.5 1099.5 L1032.5 1099.4 L1034.4 1099.7 L1036.3 1099.5 L1038.3 1100.0 L1040.2 1099.5 L1042.1 1100.3 L1044.1 1099.8 L1046.0 1100.0 L1048.0 1099.7 L1049.9 1100.2 L1051.8 1099.9 L1053.8 1100.2 L1055.8 1100.1 L1057.8 1100.3 L1059.8 1099.7 L1061.8 1100.2 L1063.8 1100.1 L1065.8 1100.3 L1067.8 1100.1 L1069.8 1100.3 L1071.8 1100.0 L1073.8 1100.4 L1075.8 1100.2 L1077.8 1100.4 L1079.8 1100.2 L1081.8 1100.6 L1083.8 1100.2 L1085.8 1100.8 L1087.8 1100.2 L1089.8 1100.5 L1091.8 1100.3 L1093.8 1100.6 L1095.8 1100.3 L1097.8 1100.5 L1099.8 1100.1 L1101.8 1100.8 L1103.8 1100.2 L1105.8 1100.6 L1107.7 1100.5 L1109.7 1100.7 L1111.1 1101.3 L1112.3 1102.5 L1114.3 1102.3 L1116.3 1102.4 L1118.3 1102.2 L1120.3 1102.4 L1122.3 1101.7 L1124.3 1102.5 L1126.3 1102.3 L1128.3 1102.6 L1130.3 1102.3 L1132.3 1102.5 L1134.3 1102.3 L1136.3 1102.7 L1138.3 1102.1 L1140.3 1102.7 L1142.3 1102.3 L1144.3 1102.5 L1146.4 1101.9 L1148.4 1102.6 L1150.4 1102.3 L1152.4 1102.5 L1154.4 1102.3 L1156.4 1102.5 L1158.4 1102.3 L1160.4 1102.4 L1162.4 1102.3 L1164.4 1102.4 L1166.4 1102.3 L1168.4 1102.5 L1170.4 1102.3 L1172.4 1102.6 L1174.4 1102.2 L1176.4 1102.4 L1178.4 1102.2 L1180.4 1102.7 L1182.4 1102.1 L1184.5 1102.5 L1186.5 1102.1 L1188.5 1102.4 L1190.5 1102.3 L1192.5 1102.5 L1194.5 1101.9 L1196.5 1102.4 L1198.5 1102.3 L1200.5 1102.8 L1202.5 1102.1 L1204.5 1102.4 L1206.5 1102.3 L1208.5 1102.9 L1210.5 1102.3 L1212.5 1102.5 L1214.5 1102.2 L1216.5 1102.4 L1218.5 1102.2 L1220.5 1102.4 L1222.6 1102.0 L1224.6 1102.6 L1226.6 1101.9 L1228.6 1102.4 L1230.6 1102.2 L1232.6 1102.4 L1234.6 1102.3 L1236.6 1102.4 L1238.6 1101.9 L1240.6 1102.5 L1242.6 1102.3 L1244.6 1102.7 L1246.6 1102.2 L1248.6 1102.8 L1250.6 1102.3 L1252.6 1102.7 L1254.6 1102.1 L1256.6 1102.4 L1258.6 1101.9 L1260.7 1103.0 L1262.7 1102.3 L1264.7 1102.4 L1266.7 1102.2 L1268.7 1102.4 L1270.7 1102.3 L1272.7 1102.7 L1274.7 1102.0 L1276.7 1102.6 L1278.7 1102.3 L1280.7 1102.4 L1282.7 1102.2 L1284.7 1102.5 L1286.7 1102.1 L1288.7 1102.7 L1290.7 1102.3 L1292.7 1102.8 L1294.7 1102.2 L1296.7 1102.7 L1298.8 1102.2 L1300.8 1103.0 L1302.8 1102.2 L1304.8 1102.6 L1306.8 1102.2 L1308.8 1102.6 L1310.8 1102.2 L1312.8 1102.4 L1314.8 1102.1 L1316.8 1102.7 L1318.8 1102.1 L1320.8 1102.7 L1322.8 1102.2 L1324.8 1102.6 L1326.8 1102.2 L1328.7 1102.7 L1330.5 1103.0 L1332.2 1103.7 L1333.9 1104.0 L1335.9 1104.3 L1337.9 1104.1 L1339.9 1104.2 L1341.9 1103.8 L1344.0 1104.3 L1345.9 1103.5 L1348.0 1103.9 L1350.0 1103.4 L1352.0 1103.8 L1354.0 1103.6 L1356.0 1103.7 L1358.0 1103.5 L1360.0 1103.7 L1362.0 1103.6 L1364.1 1103.8 L1366.1 1103.6 L1368.1 1103.7 L1370.1 1103.0 L1372.1 1103.7 L1374.1 1103.4 L1376.1 1104.0 L1378.1 1103.4 L1380.1 1103.8 L1382.1 1103.7 L1384.1 1104.2 L1386.2 1103.7 L1388.2 1103.9 L1390.2 1103.3 L1392.2 1104.1 L1394.2 1103.2 L1396.2 1103.8 L1398.2 1103.3 L1400.2 1104.3 L1402.2 1103.8 L1404.2 1103.9 L1406.3 1103.5 L1408.3 1104.2 L1410.3 1103.7 L1412.3 1103.9 L1414.3 1103.5 L1416.3 1103.9 L1418.3 1103.7 L1420.3 1104.3 L1422.3 1103.8 L1424.3 1104.1 L1426.3 1103.8 L1428.4 1104.0 L1430.4 1103.7 L1432.4 1104.1 L1434.4 1103.8 L1436.4 1104.0 L1438.4 1103.8 L1440.4 1104.1 L1442.4 1103.6 L1444.4 1104.2 L1446.4 1103.7 L1448.4 1104.3 L1450.5 1103.8 L1452.5 1104.2 L1454.5 1103.8 L1456.5 1104.4 L1458.5 1104.0 L1460.5 1104.2 L1462.5 1104.0 L1464.5 1104.4 L1466.5 1104.0 L1468.5 1104.1 L1470.6 1103.8 L1472.6 1104.1 L1474.6 1104.0 L1476.6 1104.5 L1478.6 1104.1 L1480.6 1104.4 L1482.6 1103.9 L1484.6 1104.4 L1486.6 1104.0 L1488.6 1104.2 L1490.6 1104.1 L1492.7 1104.4 L1494.7 1104.2 L1496.7 1104.4 L1498.7 1104.0 L1500.7 1104.7 L1502.7 1104.2 L1504.7 1104.5 L1506.7 1104.1 L1508.7 1104.7 L1510.7 1104.1 L1512.7 1104.3 L1514.8 1104.1 L1516.8 1104.6 L1518.8 1104.1 L1520.8 1104.5 L1522.8 1104.1 L1524.8 1104.6 L1526.8 1104.1 L1528.8 1104.4 L1530.8 1104.0 L1532.8 1104.5 L1534.9 1104.0 L1536.9 1104.5 L1538.9 1104.1 L1540.9 1104.8 L1542.9 1104.3 L1545.0 1104.5 L1547.0 1104.0 L1549.0 1104.7 L1551.1 1103.9 L1553.1 1104.6 L1555.1 1103.6 L1557.1 1104.6 L1559.2 1104.3 L1561.2 1104.5 L1563.2 1104.3 L1565.3 1104.6 L1567.3 1104.3 L1569.3 1104.9 L1571.4 1104.1 L1573.4 1104.6 L1575.4 1104.2 L1577.5 1104.7 L1579.5 1104.4 L1581.5 1105.2 L1583.5 1104.3 L1585.6 1104.5 L1587.6 1103.8 L1589.6 1104.8 L1591.7 1103.9 L1593.7 1104.7 L1595.7 1103.2 L1597.8 1104.7 L1599.8 1104.3 L1601.8 1104.7 L1603.8 1104.3 L1605.8 1104.5 L1607.8 1103.6 L1609.8 1104.6 L1611.8 1103.6 L1613.8 1104.1 L1615.7 1103.9 L1617.7 1104.5 L1619.7 1103.5 L1621.7 1104.0 L1623.7 1103.6 L1625.7 1104.6 L1627.7 1103.3 L1629.7 1104.0 L1631.6 1103.1 L1633.7 1105.1 L1635.6 1102.6 L1637.6 1104.4 L1639.6 1102.7 L1641.6 1104.1 L1643.6 1102.4 L1645.6 1103.8 L1647.5 1103.1 L1649.6 1104.6 L1651.5 1103.1 L1653.5 1103.7 L1655.5 1102.6 L1657.5 1103.9 L1659.5 1102.4 L1661.5 1103.8 L1663.5 1102.7 L1665.4 1102.9 L1667.4 1102.7 L1669.4 1103.4 L1671.4 1102.1 L1673.4 1103.5 L1675.4 1102.6 L1677.6 1102.9 L1679.1 1101.2 L1681.3 1100.7 L1682.8 1098.8 L1685.1 1098.9 L1686.8 1097.5 L1688.7 1097.2 L1690.4 1095.9 L1692.5 1095.1 L1694.6 1095.1 L1696.3 1096.7 L1698.2 1096.8 L1700.0 1097.6 L1702.1 1096.6 L1703.8 1098.0 L1705.8 1097.7 L1707.4 1099.0 L1709.5 1099.0 L1710.7 1101.1 L1712.9 1100.9 L1713.8 1103.4 L1716.7 1101.9 L1717.7 1104.5 L1719.7 1103.7 L1721.8 1105.1 L1723.8 1104.0 L1725.9 1104.7 L1728.0 1103.3 L1730.0 1105.2 L1732.1 1103.8 L1734.1 1104.8 L1736.2 1103.9 L1738.3 1104.4 L1740.2 1103.4 L1742.5 1104.4 L1744.5 1103.1 L1746.7 1103.8 L1748.6 1102.2 L1750.8 1102.3 L1752.9 1101.4 L1754.8 1102.4 L1756.8 1101.8 L1758.7 1102.4 L1760.7 1101.9 L1762.6 1102.7 L1764.6 1102.1 L1766.5 1103.2 L1768.4 1102.1 L1770.3 1103.6 L1772.3 1102.6 L1774.2 1103.2 L1776.2 1102.7 L1778.3 1104.1 L1780.1 1102.7 L1782.1 1102.4 L1784.0 1101.1 L1786.3 1102.2 L1788.1 1101.0 L1790.2 1100.9 L1792.2 1100.4 L1794.3 1100.7 L1796.1 1098.9 L1798.3 1099.7 L1800.1 1098.1 L1802.5 1099.2 L1804.2 1097.2 L1806.6 1098.5 L1808.3 1096.7 L1810.3 1097.4 L1812.4 1096.5 L1814.2 1098.7 L1816.5 1097.1 L1818.8 1098.6 L1819.7 1096.6 L1821.8 1096.1 L1822.4 1093.6 L1824.5 1093.1 L1825.8 1091.5 L1827.5 1090.8 L1828.7 1089.1 L1831.1 1089.8 L1832.2 1087.0 L1833.8 1089.1 L1835.1 1090.6 L1837.2 1091.0 L1838.1 1093.1 L1839.8 1094.0 L1841.0 1096.8 L1843.2 1094.8 L1845.2 1096.2 L1847.4 1095.2 L1849.4 1096.7 L1851.6 1096.4 L1853.8 1097.4 L1855.4 1095.8 L1857.4 1095.9 L1859.3 1095.4 L1861.4 1095.6 L1863.0 1094.1 L1865.0 1094.1 L1866.7 1092.7 L1868.4 1093.8 L1871.2 1093.6 L1873.8 1095.2 L1875.3 1092.8 L1877.5 1092.7 L1879.2 1090.8 L1881.9 1092.6 L1883.3 1090.0 L1885.7 1090.2 L1887.0 1088.6 L1889.2 1088.2 L1890.5 1086.4 L1892.7 1086.1 L1893.8 1084.0 L1895.9 1083.2 L1896.1 1081.0 L1897.6 1079.7 L1898.5 1078.0 L1899.7 1076.5 L1900.4 1074.7 L1901.8 1073.3 L1902.6 1071.6 L1902.9 1069.6 L1902.9 1067.7 L1903.4 1065.8 L1903.5 1063.8 L1904.2 1062.0 L1904.0 1059.9 L1904.7 1058.1 L1904.5 1056.1 L1904.9 1054.2 L1905.1 1052.2 L1905.6 1050.3 L1905.3 1048.2 L1905.8 1046.2 L1905.8 1044.2 L1906.4 1042.2 L1905.8 1040.1 L1906.4 1038.1 L1906.3 1036.1 L1906.9 1034.1 L1906.6 1032.0 L1907.4 1030.1 L1907.1 1028.0 L1907.6 1026.0 L1907.4 1023.9 L1907.7 1021.9 L1907.5 1019.9 L1908.0 1017.9 L1907.8 1015.8 L1908.3 1013.8 L1908.2 1011.8 L1908.5 1009.7 L1908.4 1007.7 L1908.9 1005.7 L1908.7 1003.6 L1909.4 1001.7 L1909.0 999.6 L1909.5 997.6 L1909.3 995.5 L1909.9 993.6 L1909.8 991.6 L1910.5 989.8 L1910.1 987.8 L1910.6 986.0 L1910.7 984.0 L1911.3 982.2 L1911.1 980.2 L1911.6 978.4 L1911.8 976.5 L1913.3 975.6 L1914.6 974.0 L1915.7 975.9 L1916.5 977.7 L1917.6 979.3 L1917.4 981.3 L1918.1 983.2 L1917.7 985.2 L1918.3 987.1 L1918.4 989.0 L1918.6 990.9 L1918.8 992.9 L1919.1 994.8 L1918.9 996.8 L1919.7 998.6 L1919.6 1000.6 L1920.3 1002.6 L1919.7 1004.7 L1920.2 1006.7 L1919.8 1008.8 L1920.6 1010.7 L1920.5 1012.8 L1920.8 1014.8 L1920.7 1016.8 L1921.0 1018.9 L1921.1 1020.9 L1921.5 1022.9 L1921.2 1025.0 L1921.6 1027.0 L1921.5 1029.0 L1922.0 1031.0 L1922.0 1033.1 L1922.3 1035.1 L1922.2 1037.1 L1922.6 1039.1 L1922.6 1041.2 L1923.0 1043.2 L1922.8 1045.2 L1923.1 1047.2 L1923.2 1049.3 L1923.4 1051.3 L1923.4 1053.3 L1923.8 1055.3 L1923.5 1057.4 L1924.5 1059.2 L1924.3 1061.2 L1924.7 1063.0 L1924.6 1065.0 L1925.4 1066.8 L1925.1 1068.8 L1925.7 1070.6 L1925.7 1072.5 L1926.0 1074.4 L1927.3 1076.2 L1928.8 1078.4 L1930.3 1076.6 L1931.0 1074.5 L1932.7 1073.3 L1933.6 1071.5 L1934.7 1069.9 L1935.1 1068.0 L1936.2 1066.4 L1936.6 1064.5 L1937.4 1062.7 L1938.0 1060.9 L1939.0 1059.3 L1939.4 1057.4 L1940.0 1055.4 L1940.2 1053.3 L1941.2 1051.4 L1941.2 1049.3 L1941.9 1047.4 L1942.2 1045.3 L1942.9 1043.3 L1943.0 1041.2 L1943.8 1039.3 L1944.0 1037.2 L1944.9 1035.3 L1944.9 1033.2 L1945.8 1031.3 L1945.6 1029.1 L1946.7 1027.2 L1946.6 1025.1 L1947.4 1023.2 L1947.6 1021.1 L1948.2 1019.1 L1948.1 1017.0 L1948.8 1015.0 L1949.1 1013.0 L1949.7 1011.0 L1949.9 1008.9 L1950.6 1006.9 L1950.8 1004.9 L1951.3 1002.9 L1951.7 1000.9 L1952.5 999.1 L1952.4 997.0 L1953.1 995.1 L1953.3 993.1 L1954.3 991.2 L1954.2 989.1 L1955.1 987.3 L1954.8 985.1 L1955.7 983.3 L1955.9 981.2 L1956.7 979.4 L1956.8 977.3 L1958.0 975.5 L1958.1 973.4 L1959.1 971.5 L1959.2 969.4 L1960.1 967.5 L1960.2 965.3 L1961.3 963.5 L1961.3 961.4 L1962.2 959.5 L1962.8 957.4 L1964.1 955.7 L1964.9 953.7 L1966.0 951.9 L1966.7 949.9 L1968.0 948.3 L1969.2 946.8 L1970.8 946.0 L1971.9 944.2 L1973.5 943.4 L1974.9 942.2 L1976.5 941.2 L1977.9 939.8 L1979.8 939.3 L1981.1 937.8 L1982.9 937.1 L1984.4 935.8 L1986.1 935.0 L1987.7 933.8 L1989.5 932.8 L1991.1 931.3 L1992.9 930.3 L1994.3 928.4 L1996.3 927.7 L1998.0 926.9 L1999.9 926.8 L2001.6 926.0 L2003.6 926.0 L2005.3 925.5 L2007.2 925.2 L2008.9 924.1 L2010.9 924.4 L2012.8 923.9 L2014.7 923.7 L2016.6 923.2 L2018.5 923.1 L2020.2 922.4 L2021.8 921.2 L2023.2 919.7 L2025.0 918.7 L2026.0 916.9 L2027.6 915.6 L2028.8 914.0 L2030.4 912.7 L2031.6 911.1 L2033.2 909.9 L2034.5 908.3 L2036.5 907.7 L2038.0 906.0 L2040.0 905.5 L2041.3 904.0 L2042.8 902.6 L2043.3 900.7 L2044.4 899.1 L2045.0 897.3 L2046.0 895.8 L2047.5 894.5 L2049.2 893.8 L2050.9 892.4 L2052.9 893.3 L2054.7 894.4 L2056.8 894.7 L2058.6 895.7 L2059.7 897.2 L2060.4 899.1 L2062.0 900.2 L2062.4 902.2 L2063.8 903.6 L2064.2 905.6 L2064.7 907.4 L2064.6 909.4 L2065.4 911.2 L2065.3 913.2 L2065.9 915.0 L2066.0 916.9 L2066.8 918.7 L2066.8 920.7 L2067.2 922.6 L2067.4 924.5 L2067.8 926.4 L2067.9 928.4 L2068.3 930.3 L2068.2 932.3 L2068.9 934.2 L2068.9 936.1 L2069.6 938.0 L2069.1 940.0 L2070.0 941.9 L2069.6 943.9 L2070.4 945.8 L2070.3 947.8 L2070.9 949.6 L2070.7 951.6 L2071.5 953.5 L2071.2 955.5 L2072.0 957.4 L2072.0 959.3 L2072.7 961.2 L2072.1 963.3 L2072.9 965.1 L2073.1 967.1 L2073.4 969.0 L2073.6 971.0 L2074.0 972.9 L2074.1 974.8 L2074.7 976.7 L2074.3 978.7 L2074.9 980.6 L2075.0 982.6 L2075.7 984.5 L2075.5 986.5 L2076.3 988.3 L2076.3 990.3 L2077.1 992.2 L2077.1 994.2 L2077.6 996.1 L2077.9 998.1 L2078.5 999.9 L2078.7 1001.9 L2079.2 1003.8 L2079.4 1005.8 L2080.0 1007.7 L2080.0 1009.7 L2080.9 1011.6 L2080.8 1013.6 L2081.3 1015.6 L2081.3 1017.6 L2082.0 1019.5 L2081.9 1021.5 L2082.6 1023.4 L2082.6 1025.4 L2083.6 1027.3 L2083.2 1029.4 L2084.2 1031.2 L2084.2 1033.3 L2084.8 1035.2 L2084.9 1037.3 L2085.5 1039.3 L2085.6 1041.3 L2086.0 1043.3 L2086.3 1045.3 L2086.8 1047.3 L2086.8 1049.4 L2087.6 1051.3 L2087.7 1053.4 L2088.3 1055.3 L2088.3 1057.4 L2089.0 1059.4 L2089.2 1061.5 L2090.0 1063.5 L2090.2 1065.6 L2091.0 1067.6 L2091.2 1069.7 L2092.1 1071.6 L2092.2 1073.8 L2092.7 1075.8 L2093.5 1077.6 L2094.7 1079.1 L2095.2 1081.0 L2096.5 1082.4 L2097.4 1084.1 L2098.4 1086.2 L2099.8 1084.4 L2101.0 1082.7 L2102.8 1081.7 L2104.0 1080.0 L2105.2 1078.4 L2106.3 1076.6 L2107.7 1075.2 L2108.6 1073.3 L2109.8 1071.6 L2110.2 1069.6 L2111.5 1068.0 L2111.9 1066.0 L2113.0 1064.3 L2113.7 1062.4 L2114.7 1060.7 L2115.1 1058.4 L2117.1 1058.1 L2118.0 1056.3 L2119.7 1055.7 L2121.0 1054.5 L2122.6 1053.2 L2123.9 1051.7 L2125.4 1050.3 L2126.8 1048.9 L2127.9 1047.5 L2129.0 1046.0 L2130.3 1044.7 L2131.1 1043.0 L2132.5 1041.9 L2134.4 1040.3 L2136.7 1039.2 L2138.6 1040.8 L2140.5 1042.1 L2142.4 1043.2 L2143.5 1044.7 L2145.0 1045.7 L2145.7 1047.5 L2147.2 1048.6 L2147.8 1050.4 L2149.0 1052.1 L2149.1 1054.2 L2150.3 1055.9 L2150.7 1057.9 L2152.0 1059.6 L2152.1 1061.7 L2152.9 1063.2 L2152.9 1065.0 L2153.7 1066.4 L2154.3 1068.2 L2155.9 1069.5 L2156.3 1071.4 L2157.6 1072.7 L2158.0 1074.6 L2159.1 1076.0 L2161.0 1077.1 L2163.1 1077.4 L2164.7 1076.0 L2165.9 1074.0 L2167.5 1072.5 L2168.7 1070.7 L2169.9 1068.8 L2170.8 1066.9 L2172.4 1065.3 L2173.2 1063.3 L2174.7 1061.7 L2175.5 1059.6 L2177.4 1058.7 L2178.9 1057.2 L2180.9 1056.3 L2182.3 1054.4 L2184.3 1054.5 L2186.1 1053.7 L2187.9 1053.2 L2189.6 1052.2 L2191.6 1052.0 L2193.4 1051.4 L2194.9 1049.9 L2196.0 1048.0 L2197.6 1046.5 L2198.8 1044.8 L2200.4 1043.3 L2201.4 1041.3 L2202.8 1039.7 L2203.6 1037.6 L2205.0 1036.0 L2205.8 1033.9 L2207.2 1032.3 L2208.9 1030.6 L2210.8 1029.5 L2212.7 1027.8 L2214.3 1028.7 L2216.1 1028.7 L2217.8 1029.3 L2219.6 1029.4 L2219.9 1031.3 L2221.1 1032.8 L2221.0 1034.9 L2221.9 1036.5 L2222.4 1038.3 L2223.0 1040.0 L2223.0 1042.0 L2224.4 1043.7 L2224.2 1045.9 L2225.0 1047.8 L2225.4 1049.8 L2226.1 1051.7 L2226.2 1053.8 L2227.0 1055.7 L2227.1 1057.7 L2227.8 1059.7 L2228.2 1061.6 L2229.0 1063.4 L2229.3 1065.3 L2230.0 1067.2 L2230.0 1069.2 L2230.9 1071.0 L2231.2 1072.9 L2232.0 1074.7 L2232.6 1076.7 L2233.7 1078.4 L2234.4 1080.4 L2235.8 1082.0 L2236.4 1083.9 L2237.4 1085.7 L2238.6 1087.3 L2240.1 1088.5 L2241.4 1089.9 L2242.9 1091.2 L2244.2 1092.7 L2245.7 1093.9 L2247.1 1095.3 L2249.0 1096.0 L2250.4 1097.5 L2252.3 1098.2 L2253.8 1099.5 L2255.7 1099.5 L2257.5 1100.4 L2259.4 1100.5 L2261.2 1100.9 L2263.0 1101.2 L2264.8 1101.6 L2266.8 1101.1 L2268.7 1102.2 L2270.7 1101.6 L2272.7 1102.2 L2274.7 1101.6 L2276.6 1102.2 L2278.6 1102.0 L2280.5 1102.1 L2282.5 1101.7 L2284.5 1102.1 L2286.4 1102.1 L2288.4 1102.2 L2290.3 1102.2 L2292.4 1102.5 L2293.9 1101.3 L2295.8 1101.2 L2297.4 1100.0 L2299.1 1099.7 L2301.1 1099.5 L2303.0 1100.2 L2305.0 1100.0 L2306.8 1100.8 L2308.5 1100.6 L2310.4 1099.5 L2311.2 1097.3 L2312.9 1096.0 L2314.2 1094.2 L2315.7 1092.9 L2317.5 1092.1 L2319.3 1091.8 L2321.1 1091.2 L2323.0 1091.0 L2324.8 1090.2 L2326.7 1090.0 L2328.2 1088.7 L2330.1 1087.9 L2331.6 1086.6 L2333.3 1085.5 L2334.7 1084.1 L2336.9 1083.5 L2338.5 1082.0 L2340.4 1080.6 L2341.8 1082.4 L2343.1 1084.1 L2344.5 1085.5 L2345.7 1087.1 L2347.3 1088.4 L2348.8 1089.6 L2350.6 1090.1 L2352.1 1091.2 L2353.9 1091.6 L2355.5 1093.0 L2356.8 1091.0 L2357.2 1088.9 L2358.4 1087.2 L2359.1 1085.3 L2360.2 1083.5 L2361.0 1081.6 L2362.7 1081.0 L2364.4 1080.2 L2366.2 1079.7 L2367.8 1078.8 L2369.6 1077.9 L2371.2 1076.7 L2373.1 1075.9 L2374.7 1074.4 L2375.4 1076.5 L2375.7 1078.4 L2376.5 1080.1 L2377.0 1081.9 L2377.7 1083.6 L2378.1 1085.4 L2378.8 1087.5 L2380.4 1086.0 L2381.3 1084.1 L2383.2 1083.1 L2383.2 1081.2 L2384.3 1079.7 L2384.2 1077.8 L2385.0 1076.2"/>
<path id="c-black" stroke="#000" d="M260.1 1525.7 L262.0 1523.7 L264.0 1524.5 L266.0 1523.3 L268.1 1525.1 L269.9 1522.1 L272.0 1524.2 L273.9 1523.2 L275.9 1524.2 L277.8 1522.2 L280.0 1525.8 L281.8 1523.0 L283.9 1524.0 L285.8 1522.6 L287.7 1524.0 L289.8 1522.2 L291.9 1523.0 L294.0 1522.0 L296.0 1523.2 L298.1 1522.9 L300.1 1524.2 L302.2 1522.0 L304.2 1524.8 L306.3 1522.2 L308.4 1524.3 L310.1 1522.8 L312.1 1521.8 L313.2 1519.8 L316.6 1520.5 L315.9 1516.5 L318.0 1515.8 L320.0 1515.0 L321.9 1517.3 L324.1 1514.8 L326.0 1516.9 L328.1 1515.5 L330.1 1516.4 L332.2 1515.4 L334.0 1518.4 L336.1 1516.7 L338.2 1517.4 L339.9 1515.1 L342.1 1516.6 L343.9 1515.3 L346.4 1518.9 L347.8 1514.8 L349.9 1515.2 L351.6 1512.9 L353.9 1515.3 L355.8 1511.8 L357.9 1514.1 L359.6 1516.1 L362.0 1514.6 L363.6 1517.1 L365.9 1515.8 L367.8 1516.9 L370.0 1516.0 L371.7 1518.4 L374.1 1516.3 L375.8 1519.6 L377.9 1518.0 L379.7 1521.1 L381.8 1517.7 L383.7 1518.7 L385.6 1518.0 L387.5 1520.3 L389.5 1518.6 L391.4 1519.1 L393.4 1518.2 L395.3 1519.3 L397.2 1519.0 L399.1 1521.0 L400.7 1519.2 L403.1 1518.3 L400.5 1514.5 L404.2 1514.3 L404.1 1512.0 L407.6 1511.8 L406.7 1509.0 L408.2 1507.6 L408.6 1505.4 L411.1 1507.1 L412.3 1503.0 L415.1 1505.6 L416.6 1503.2 L418.7 1500.4 L420.9 1502.7 L422.1 1504.8 L424.9 1502.9 L424.3 1509.0 L427.2 1506.9 L428.8 1508.1 L431.3 1506.5 L432.1 1511.0 L434.6 1509.6 L436.4 1513.2 L438.5 1510.2 L439.7 1507.8 L443.0 1509.8 L443.5 1506.0 L446.2 1506.7 L446.9 1503.2 L450.3 1505.7 L449.7 1500.7 L453.3 1502.3 L452.9 1498.4 L456.7 1500.2 L455.8 1495.8 L458.8 1498.2 L460.9 1497.0 L462.5 1499.5 L465.1 1494.6 L466.8 1498.1 L465.9 1495.4 L469.7 1495.0 L469.0 1492.3 L470.5 1490.7 L470.5 1488.4 L471.7 1488.8 L473.5 1485.6 L475.6 1486.9 L477.4 1484.8 L479.7 1489.7 L481.2 1482.7 L483.5 1487.4 L485.3 1485.4 L487.4 1487.6 L489.0 1483.0 L491.3 1485.2 L493.0 1481.2 L495.4 1484.9 L497.2 1481.4 L499.7 1486.1 L501.6 1483.7 L503.7 1484.6 L505.7 1483.3 L507.8 1483.4 L509.8 1482.6 L512.2 1485.7 L513.9 1482.5 L516.0 1483.0 L517.8 1480.9 L520.1 1483.0 L522.0 1481.6 L523.9 1483.0 L526.0 1480.9 L527.8 1482.3 L529.8 1482.1 L531.8 1482.4 L533.8 1481.2 L535.7 1482.7 L537.7 1482.3 L539.7 1483.2 L541.5 1482.1 L543.6 1482.4 L545.4 1481.2 L547.6 1481.8 L549.3 1480.4 L551.4 1480.5 L553.2 1479.6 L555.3 1479.7 L557.2 1478.9 L559.3 1478.8 L561.2 1477.8 L563.3 1477.8 L565.2 1476.9 L567.5 1477.3 L569.1 1475.3 L571.4 1475.8 L573.3 1475.1 L575.4 1474.7 L577.3 1473.6 L579.4 1473.8 L581.3 1472.8 L583.5 1472.9 L585.3 1471.7 L587.7 1472.6 L589.3 1470.4 L591.5 1470.6 L593.4 1469.7 L595.6 1469.9 L597.5 1469.0 L599.5 1469.2 L601.4 1468.1 L603.4 1468.3 L605.3 1467.4 L607.3 1467.7 L609.1 1466.1 L611.4 1468.2 L613.1 1465.9 L615.1 1467.7 L617.1 1466.0 L619.0 1467.6 L621.0 1466.2 L622.9 1466.9 L624.8 1466.6 L626.8 1467.6 L628.7 1466.8 L630.6 1467.6 L632.6 1466.9 L634.5 1467.3 L636.5 1466.9 L638.4 1467.5 L640.3 1466.9 L642.3 1468.4 L644.2 1466.1 L646.2 1467.5 L648.1 1466.7 L650.1 1467.8 L651.9 1466.0 L653.9 1467.1 L655.8 1466.4 L657.8 1467.3 L659.7 1465.2 L661.7 1466.5 L663.5 1465.5 L665.5 1466.2 L667.5 1465.2 L669.4 1466.8 L671.3 1466.0 L673.2 1466.7 L675.2 1466.0 L677.1 1466.6 L679.1 1466.0 L681.0 1467.1 L683.0 1466.4 L684.9 1467.4 L686.8 1466.8 L688.7 1467.2 L690.7 1466.5 L692.6 1467.7 L694.7 1466.2 L696.4 1468.3 L698.5 1467.4 L700.4 1467.9 L702.4 1466.6 L704.2 1469.5 L706.2 1467.6 L708.1 1468.9 L710.1 1468.0 L712.0 1469.3 L714.0 1468.4 L715.7 1470.7 L717.9 1468.5 L719.7 1469.4 L721.7 1469.3 L723.6 1470.5 L725.6 1469.5 L727.5 1470.3 L729.6 1469.1 L731.3 1470.9 L733.3 1470.7 L735.2 1471.4 L737.2 1470.8 L739.0 1472.5 L741.1 1471.2 L742.8 1473.0 L745.1 1471.2 L746.8 1473.3 L748.8 1473.0 L750.7 1473.9 L752.9 1472.8 L754.6 1474.6 L756.6 1474.6 L758.3 1475.9 L760.6 1474.5 L762.2 1476.8 L764.3 1476.0 L766.2 1476.8 L768.3 1476.4 L770.3 1477.4 L772.4 1477.2 L774.3 1478.2 L776.4 1478.1 L778.2 1479.6 L780.5 1478.4 L782.2 1480.4 L784.4 1479.6 L786.2 1481.1 L788.4 1480.6 L790.2 1481.8 L792.4 1481.2 L794.0 1483.2 L796.1 1482.9 L798.0 1483.7 L800.0 1484.1 L802.0 1484.7 L804.1 1484.4 L806.0 1485.5 L808.1 1485.1 L810.0 1486.4 L812.2 1485.8 L814.1 1486.8 L816.1 1487.2 L818.1 1488.0 L820.2 1487.8 L822.1 1488.4 L824.2 1487.8 L826.0 1489.5 L828.0 1489.4 L829.9 1490.4 L831.9 1490.2 L833.9 1490.9 L835.9 1490.8 L837.7 1491.9 L839.8 1491.4 L841.3 1493.9 L843.5 1492.9 L845.3 1493.6 L847.3 1493.3 L848.9 1495.1 L851.1 1494.2 L852.9 1496.0 L854.8 1495.1 L856.6 1494.3 L858.6 1494.7 L860.4 1493.5 L862.4 1494.0 L864.2 1493.3 L866.1 1493.3 L867.5 1492.4 L869.6 1491.6 L870.7 1489.6 L873.2 1489.2 L873.5 1486.3 L875.7 1485.7 L877.0 1484.2 L878.8 1483.7 L880.1 1482.3 L881.8 1480.6 L883.4 1482.9 L884.1 1484.9 L886.1 1485.7 L886.7 1487.8 L888.6 1488.5 L889.6 1490.4 L891.2 1491.6 L892.5 1493.2 L894.4 1494.0 L895.7 1496.0 L897.8 1494.7 L899.8 1496.1 L901.9 1495.5 L903.9 1495.7 L906.0 1495.1 L908.0 1496.1 L910.1 1495.7 L912.2 1496.0 L914.2 1495.7 L916.3 1496.9 L918.5 1495.6 L920.1 1497.5 L922.4 1496.7 L924.1 1498.5 L926.2 1498.4 L928.0 1499.8 L930.3 1499.2 L931.9 1501.2 L934.2 1500.5 L936.0 1501.8 L938.3 1501.0 L939.5 1503.9 L941.9 1502.8 L943.5 1504.3 L945.6 1504.3 L947.3 1505.7 L949.4 1505.6 L951.0 1507.4 L953.3 1506.1 L954.9 1508.6 L957.3 1507.1 L959.1 1508.6 L961.3 1508.0 L963.1 1509.3 L965.3 1508.6 L967.1 1510.3 L969.3 1509.8 L971.2 1510.8 L973.4 1510.0 L975.2 1511.7 L977.3 1511.5 L979.3 1512.3 L981.4 1512.2 L983.1 1513.9 L985.4 1512.9 L987.4 1513.6 L989.6 1512.9 L991.3 1514.8 L993.5 1514.6 L995.4 1516.0 L997.6 1515.1 L999.5 1516.7 L1001.7 1516.0 L1003.7 1516.8 L1005.9 1516.3 L1007.9 1517.1 L1009.9 1517.4 L1012.0 1518.0 L1014.1 1517.6 L1016.0 1518.7 L1018.0 1518.5 L1019.9 1519.2 L1022.1 1517.8 L1023.8 1520.2 L1025.9 1519.6 L1027.7 1520.7 L1029.9 1519.9 L1031.7 1521.5 L1033.7 1520.3 L1035.7 1521.2 L1037.7 1520.7 L1039.8 1521.3 L1041.7 1520.4 L1043.8 1520.6 L1045.8 1519.9 L1047.8 1520.7 L1049.8 1520.0 L1051.8 1520.6 L1053.9 1520.1 L1055.8 1520.8 L1057.9 1520.9 L1059.8 1522.0 L1062.0 1521.3 L1063.8 1522.7 L1065.9 1522.1 L1067.9 1522.9 L1070.0 1522.2 L1072.0 1524.2 L1074.3 1524.4 L1076.1 1521.9 L1078.4 1523.0 L1080.3 1521.2 L1082.5 1521.7 L1084.6 1520.2 L1086.6 1521.3 L1088.5 1522.4 L1090.7 1521.1 L1092.6 1522.0 L1094.7 1521.3 L1096.6 1522.7 L1098.7 1522.4 L1100.7 1522.9 L1102.7 1522.2 L1104.7 1523.6 L1106.7 1522.9 L1108.7 1523.6 L1110.8 1523.4 L1112.7 1524.0 L1114.8 1523.7 L1116.8 1524.1 L1118.8 1523.8 L1120.7 1524.0 L1122.7 1523.8 L1124.7 1524.0 L1126.7 1523.6 L1128.7 1523.9 L1130.7 1523.8 L1132.7 1524.0 L1134.7 1523.3 L1136.7 1523.8 L1138.6 1523.4 L1140.6 1523.9 L1142.6 1523.7 L1144.6 1523.9 L1146.6 1523.5 L1148.6 1524.1 L1150.6 1523.5 L1152.6 1523.9 L1154.5 1523.4 L1156.5 1524.0 L1158.5 1523.6 L1160.5 1523.9 L1162.5 1523.8 L1164.5 1524.2 L1166.5 1523.6 L1168.5 1524.3 L1170.5 1523.6 L1172.4 1524.2 L1174.4 1523.9 L1176.4 1524.2 L1178.4 1524.0 L1180.4 1524.6 L1182.4 1524.0 L1184.4 1524.3 L1186.4 1524.4 L1188.3 1524.8 L1190.3 1524.3 L1192.3 1524.8 L1194.2 1524.3 L1196.1 1524.7 L1198.1 1524.6 L1200.0 1524.8 L1202.0 1524.6 L1203.9 1525.1 L1205.8 1524.4 L1207.8 1525.2 L1209.7 1525.0 L1211.6 1525.3 L1213.6 1524.9 L1215.5 1525.3 L1217.5 1525.1 L1219.5 1525.7 L1221.5 1525.0 L1223.5 1525.3 L1225.5 1525.0 L1227.4 1525.3 L1229.4 1525.2 L1231.4 1525.2 L1233.4 1524.8 L1235.4 1525.2 L1237.4 1524.6 L1239.4 1525.2 L1241.4 1525.1 L1243.3 1525.6 L1245.3 1525.2 L1247.3 1525.2 L1249.3 1525.2 L1251.3 1525.3 L1253.3 1524.9 L1255.3 1525.2 L1257.3 1525.1 L1259.3 1525.6 L1261.2 1525.1 L1263.2 1525.2 L1265.2 1525.1 L1267.2 1525.3 L1269.2 1525.0 L1271.2 1525.8 L1273.2 1525.0 L1275.2 1525.2 L1277.1 1525.2 L1279.1 1525.3 L1281.1 1525.1 L1283.1 1525.4 L1285.1 1525.0 L1287.1 1525.6 L1289.1 1524.9 L1291.1 1525.3 L1293.0 1525.1 L1295.0 1525.5 L1297.0 1525.0 L1299.0 1525.6 L1301.0 1525.1 L1303.0 1525.4 L1305.0 1525.1 L1307.0 1525.2 L1309.0 1525.0 L1310.9 1525.4 L1312.9 1525.2 L1314.9 1525.2 L1316.9 1525.1 L1318.9 1525.5 L1320.9 1525.1 L1322.9 1525.4 L1324.9 1524.8 L1326.8 1525.6 L1328.8 1524.8 L1330.8 1525.1 L1332.7 1524.7 L1334.6 1525.0 L1336.5 1524.6 L1338.5 1524.5 L1340.4 1524.3 L1342.3 1524.4 L1344.2 1524.0 L1346.1 1524.0 L1348.1 1523.8 L1350.0 1523.8 L1351.9 1523.4 L1353.9 1523.5 L1355.8 1523.1 L1357.7 1523.3 L1359.7 1522.9 L1361.6 1523.2 L1363.5 1522.3 L1365.5 1522.9 L1367.4 1522.1 L1369.4 1522.4 L1371.3 1522.1 L1373.2 1522.1 L1375.2 1521.7 L1377.2 1522.0 L1379.2 1521.8 L1381.1 1521.9 L1383.1 1521.6 L1385.1 1522.1 L1387.1 1521.1 L1389.1 1521.8 L1391.1 1521.3 L1393.1 1521.9 L1395.1 1521.3 L1397.1 1522.0 L1399.0 1521.4 L1401.0 1521.6 L1403.0 1521.1 L1405.0 1521.4 L1407.0 1521.1 L1409.0 1521.6 L1411.0 1521.1 L1413.0 1521.4 L1415.0 1520.8 L1417.0 1521.0 L1419.1 1520.5 L1421.2 1521.2 L1423.2 1520.5 L1425.2 1520.7 L1427.3 1520.3 L1429.3 1520.4 L1431.3 1519.7 L1433.4 1520.2 L1435.5 1519.9 L1437.5 1520.1 L1439.5 1519.5 L1441.6 1519.9 L1443.6 1519.3 L1445.7 1519.6 L1447.7 1519.1 L1449.7 1519.1 L1451.7 1518.7 L1453.8 1518.9 L1455.7 1518.1 L1457.8 1518.2 L1459.8 1517.8 L1461.8 1517.7 L1463.8 1517.2 L1465.9 1517.4 L1467.8 1516.9 L1469.9 1516.8 L1471.9 1516.3 L1473.9 1516.4 L1475.9 1516.0 L1477.9 1516.6 L1479.8 1515.7 L1481.7 1515.8 L1483.6 1515.2 L1485.6 1515.6 L1487.5 1514.3 L1489.6 1516.8 L1491.3 1513.3 L1493.4 1515.3 L1495.2 1513.3 L1497.2 1514.8 L1499.0 1512.1 L1501.3 1515.7 L1502.8 1512.7 L1505.0 1514.4 L1506.6 1511.5 L1508.9 1513.6 L1510.6 1511.8 L1512.9 1514.0 L1514.5 1511.5 L1516.6 1512.2 L1518.5 1511.3 L1520.5 1511.6 L1522.4 1511.1 L1524.4 1511.2 L1526.1 1509.8 L1528.2 1510.2 L1529.9 1508.3 L1532.4 1511.1 L1533.9 1508.3 L1536.0 1508.8 L1537.8 1507.5 L1540.0 1508.6 L1541.6 1506.4 L1544.2 1509.3 L1545.5 1505.6 L1547.6 1506.1 L1549.1 1503.5 L1551.7 1506.5 L1553.4 1504.5 L1555.6 1505.8 L1557.2 1503.7 L1559.3 1504.2 L1561.0 1502.3 L1563.2 1503.6 L1565.0 1502.2 L1567.1 1503.3 L1568.9 1501.7 L1571.1 1502.9 L1572.3 1498.4 L1574.9 1502.0 L1576.5 1498.1 L1578.7 1503.4 L1580.4 1498.5 L1582.5 1502.2 L1584.4 1499.6 L1586.4 1501.1 L1588.2 1497.9 L1590.2 1500.1 L1592.1 1497.9 L1594.1 1500.6 L1596.0 1499.5 L1598.0 1501.5 L1599.8 1498.0 L1601.9 1499.8 L1603.4 1497.4 L1605.8 1499.0 L1607.4 1497.5 L1609.7 1498.9 L1610.8 1494.8 L1613.2 1496.4 L1615.0 1495.6 L1617.1 1495.8 L1616.9 1491.7 L1620.6 1493.5 L1620.3 1489.2 L1624.8 1492.1 L1625.0 1488.8 L1627.0 1485.7 L1629.1 1488.3 L1631.0 1489.9 L1633.3 1489.0 L1635.2 1490.7 L1637.5 1489.9 L1639.7 1491.6 L1641.7 1490.1 L1643.8 1490.4 L1645.8 1489.2 L1648.1 1490.5 L1650.1 1489.3 L1652.3 1489.4 L1653.9 1488.1 L1656.8 1489.7 L1657.2 1485.5 L1660.1 1487.3 L1661.1 1484.5 L1663.1 1484.0 L1664.7 1481.3 L1666.9 1483.6 L1668.9 1481.3 L1671.2 1485.2 L1673.2 1482.0 L1675.3 1484.1 L1675.7 1480.7 L1679.0 1481.4 L1678.1 1477.8 L1681.8 1478.8 L1681.6 1476.0 L1683.8 1475.4 L1684.9 1473.7 L1687.4 1473.2 L1686.0 1469.3 L1688.7 1466.8 L1690.8 1468.1 L1691.6 1472.4 L1694.4 1469.0 L1695.2 1473.3 L1697.6 1470.9 L1699.4 1472.6 L1701.6 1471.4 L1703.3 1474.5 L1705.8 1470.2 L1706.8 1473.2 L1709.2 1474.3 L1708.8 1476.8 L1711.3 1477.9 L1709.9 1480.9 L1712.5 1481.9 L1711.7 1485.6 L1714.4 1484.7 L1714.9 1487.4 L1717.8 1486.1 L1718.3 1488.7 L1720.2 1491.4 L1722.1 1489.3 L1723.8 1487.5 L1725.9 1488.3 L1727.6 1487.0 L1729.7 1487.9 L1731.5 1487.2 L1733.4 1487.0 L1735.0 1486.1 L1737.7 1487.5 L1737.8 1483.2 L1740.3 1484.1 L1741.3 1481.8 L1744.0 1483.2 L1745.3 1481.5 L1748.4 1483.2 L1748.3 1479.5 L1750.0 1478.8 L1751.2 1477.2 L1752.9 1474.4 L1754.9 1477.0 L1755.5 1480.1 L1758.4 1478.9 L1759.3 1481.4 L1761.6 1481.4 L1763.0 1485.1 L1764.9 1482.5 L1765.7 1479.8 L1768.3 1480.9 L1769.2 1478.3 L1771.8 1479.7 L1773.1 1475.6 L1777.0 1477.8 L1774.1 1482.0 L1776.5 1482.9 L1776.6 1485.2 L1778.1 1488.9 L1780.6 1488.6 L1782.1 1484.7 L1784.5 1485.7 L1786.5 1485.0 L1789.0 1486.5 L1790.2 1483.1 L1793.4 1485.2 L1794.0 1481.7 L1796.2 1481.6 L1797.8 1480.3 L1800.1 1480.5 L1801.5 1478.7 L1803.3 1475.6 L1804.8 1479.1 L1805.9 1480.9 L1808.5 1480.8 L1808.5 1484.0 L1810.8 1486.3 L1812.7 1483.7 L1813.4 1480.7 L1815.9 1481.8 L1817.2 1479.9 L1820.1 1481.9 L1820.1 1478.3 L1823.7 1479.1 L1822.4 1475.1 L1825.1 1475.1 L1825.2 1472.6 L1828.4 1472.9 L1828.4 1470.0 L1830.6 1472.8 L1832.2 1469.5 L1834.2 1470.7 L1836.0 1468.8 L1838.0 1470.6 L1840.7 1467.7 L1840.3 1472.2 L1843.4 1471.4 L1845.0 1472.9 L1847.2 1473.5 L1848.4 1476.3 L1850.6 1475.4 L1851.9 1478.4 L1854.3 1476.7 L1856.0 1477.8 L1858.3 1476.6 L1859.6 1479.5 L1862.4 1475.9 L1863.7 1481.3 L1865.6 1478.4 L1866.6 1476.1 L1869.9 1478.0 L1870.2 1474.4 L1872.6 1474.7 L1873.5 1472.1 L1876.0 1473.3 L1877.1 1470.6 L1879.3 1471.0 L1880.0 1467.2 L1883.2 1470.4 L1884.6 1468.5 L1886.5 1467.9 L1886.3 1465.0 L1889.1 1464.6 L1887.5 1460.5 L1892.4 1461.9 L1892.4 1459.1 L1895.4 1458.3 L1893.1 1455.1 L1895.6 1454.0 L1895.0 1451.5 L1897.9 1450.6 L1896.7 1447.8 L1898.5 1446.4 L1898.8 1444.3 L1900.1 1442.6 L1899.6 1440.5 L1901.1 1438.7 L1900.8 1436.7 L1901.7 1434.8 L1901.4 1432.7 L1902.6 1430.9 L1901.3 1428.7 L1902.6 1426.9 L1902.1 1424.8 L1903.1 1422.9 L1903.0 1420.8 L1904.2 1418.8 L1903.5 1416.7 L1904.1 1414.7 L1903.7 1412.5 L1904.6 1410.6 L1904.3 1408.5 L1905.2 1406.5 L1904.7 1404.5 L1905.5 1402.6 L1904.3 1400.6 L1905.2 1398.7 L1905.1 1396.7 L1906.0 1394.9 L1904.7 1392.8 L1905.8 1391.0 L1905.7 1389.0 L1906.6 1387.1 L1905.2 1385.0 L1907.7 1383.4 L1906.6 1381.2 L1908.2 1379.4 L1907.2 1377.2 L1907.9 1375.3 L1907.6 1373.2 L1908.5 1371.3 L1908.1 1369.2 L1909.1 1367.3 L1908.8 1365.1 L1910.3 1363.7 L1910.8 1361.6 L1912.5 1359.3 L1914.2 1361.6 L1914.8 1363.7 L1916.3 1365.2 L1915.9 1367.3 L1916.6 1369.2 L1915.9 1371.3 L1917.0 1373.2 L1916.2 1375.3 L1917.7 1377.2 L1917.3 1379.2 L1918.1 1381.1 L1917.9 1383.2 L1918.4 1385.1 L1917.7 1387.2 L1918.7 1389.0 L1917.3 1391.1 L1919.4 1392.8 L1918.7 1394.9 L1919.4 1396.7 L1918.9 1398.8 L1920.6 1400.5 L1919.4 1402.6 L1920.5 1404.5 L1919.6 1406.5 L1921.3 1408.3 L1920.6 1410.5 L1921.8 1412.4 L1921.4 1414.6 L1922.1 1416.5 L1921.6 1418.7 L1923.0 1420.4 L1922.8 1422.6 L1924.2 1424.3 L1924.6 1427.3 L1926.2 1425.0 L1925.4 1422.6 L1926.9 1421.3 L1926.8 1419.2 L1928.4 1417.8 L1927.8 1415.7 L1929.0 1413.9 L1928.8 1411.8 L1929.7 1410.0 L1929.6 1408.0 L1930.5 1406.1 L1929.7 1403.9 L1931.8 1402.3 L1931.1 1400.2 L1931.6 1398.4 L1931.8 1396.5 L1932.3 1394.6 L1932.2 1392.6 L1933.2 1390.9 L1932.2 1388.7 L1933.6 1387.1 L1932.6 1384.9 L1934.4 1383.1 L1934.0 1380.9 L1935.2 1379.0 L1935.0 1376.9 L1935.9 1374.9 L1936.0 1372.8 L1936.8 1370.9 L1935.9 1368.5 L1937.5 1366.7 L1937.6 1364.6 L1939.0 1362.8 L1938.8 1360.6 L1940.6 1358.9 L1939.6 1356.5 L1941.6 1354.9 L1940.7 1352.4 L1942.0 1350.6 L1941.9 1348.2 L1943.7 1346.7 L1944.0 1344.4 L1946.3 1343.4 L1946.2 1340.8 L1947.8 1339.5 L1948.2 1337.2 L1950.7 1336.5 L1950.4 1333.1 L1953.1 1333.4 L1955.3 1330.5 L1956.8 1332.5 L1958.7 1332.0 L1960.4 1333.2 L1962.2 1333.3 L1963.9 1332.8 L1965.7 1332.2 L1967.5 1331.9 L1969.2 1331.2 L1971.1 1330.5 L1971.3 1328.2 L1972.8 1327.1 L1973.2 1325.0 L1975.1 1324.4 L1976.2 1322.9 L1978.0 1322.7 L1979.2 1321.1 L1980.9 1322.6 L1983.0 1322.2 L1985.2 1323.9 L1986.7 1321.4 L1989.1 1322.4 L1990.6 1320.1 L1992.8 1320.5 L1994.8 1319.9 L1997.0 1319.7 L1998.7 1318.3 L2001.0 1318.5 L2002.6 1316.4 L2005.2 1316.9 L2005.9 1314.8 L2007.9 1314.2 L2008.7 1312.2 L2010.7 1311.6 L2011.8 1309.7 L2013.5 1308.2 L2014.5 1306.1 L2016.6 1305.5 L2018.2 1303.3 L2020.0 1305.1 L2020.6 1307.2 L2022.5 1307.9 L2022.8 1310.9 L2025.4 1310.8 L2027.4 1313.1 L2029.4 1311.7 L2031.3 1310.8 L2033.5 1311.5 L2035.3 1310.0 L2037.7 1310.7 L2039.1 1308.6 L2041.4 1308.5 L2042.2 1305.7 L2044.7 1306.6 L2045.7 1304.9 L2047.3 1303.3 L2048.6 1305.6 L2049.3 1307.3 L2050.8 1308.4 L2051.2 1310.5 L2053.3 1310.4 L2054.9 1312.6 L2057.4 1312.3 L2059.1 1314.5 L2061.7 1313.3 L2063.4 1314.8 L2065.3 1315.0 L2066.7 1315.7 L2068.1 1317.3 L2067.9 1319.3 L2069.6 1320.8 L2068.0 1323.1 L2069.9 1324.6 L2068.4 1326.9 L2070.1 1328.4 L2069.9 1330.4 L2071.2 1332.1 L2070.7 1334.1 L2072.6 1335.7 L2071.3 1337.9 L2072.3 1339.7 L2071.7 1341.7 L2073.0 1343.4 L2072.6 1345.5 L2073.7 1347.4 L2073.4 1349.6 L2074.6 1351.5 L2073.8 1353.8 L2076.0 1355.5 L2075.5 1357.7 L2076.2 1359.7 L2075.9 1362.0 L2077.6 1363.8 L2077.3 1365.9 L2078.0 1367.9 L2077.6 1370.1 L2079.4 1371.9 L2078.5 1374.1 L2079.8 1376.0 L2079.0 1378.3 L2080.3 1380.1 L2079.9 1382.3 L2081.0 1384.1 L2079.9 1386.2 L2082.1 1387.8 L2080.0 1390.1 L2082.1 1391.7 L2081.6 1393.7 L2083.4 1395.3 L2081.9 1397.5 L2082.8 1399.3 L2083.1 1401.4 L2084.7 1403.1 L2084.0 1405.4 L2084.7 1407.4 L2084.4 1409.6 L2085.8 1411.4 L2085.1 1413.7 L2086.7 1415.4 L2086.1 1417.8 L2087.8 1419.5 L2087.3 1421.9 L2088.9 1423.6 L2089.1 1425.8 L2090.3 1427.5 L2090.5 1429.6 L2091.7 1431.0 L2091.9 1433.1 L2094.0 1434.1 L2093.8 1436.5 L2095.8 1437.8 L2097.0 1440.8 L2098.7 1438.2 L2098.9 1435.7 L2100.5 1434.1 L2101.1 1431.9 L2102.3 1430.4 L2102.2 1428.1 L2104.0 1427.0 L2104.4 1425.0 L2105.6 1423.9 L2107.2 1422.7 L2109.6 1423.6 L2110.8 1421.3 L2113.2 1420.8 L2113.2 1418.5 L2114.6 1416.6 L2114.5 1414.2 L2116.4 1412.7 L2115.4 1409.7 L2117.9 1408.6 L2118.3 1405.4 L2120.2 1407.2 L2121.7 1409.1 L2124.1 1409.0 L2125.1 1410.9 L2127.0 1411.9 L2128.0 1413.7 L2129.7 1414.7 L2131.3 1415.9 L2133.3 1416.1 L2134.6 1418.0 L2136.8 1417.2 L2138.6 1418.3 L2140.6 1418.2 L2141.8 1419.5 L2143.3 1420.9 L2144.0 1422.6 L2145.0 1424.3 L2145.5 1426.2 L2147.6 1427.6 L2146.9 1429.8 L2147.6 1431.7 L2147.8 1433.7 L2148.9 1435.4 L2148.7 1437.6 L2149.9 1439.2 L2150.2 1441.1 L2151.9 1442.6 L2151.5 1444.8 L2152.9 1446.4 L2152.3 1448.8 L2154.2 1450.3 L2153.4 1452.9 L2155.4 1454.3 L2155.6 1456.4 L2157.4 1458.0 L2156.8 1460.9 L2159.1 1461.2 L2160.2 1463.2 L2162.1 1465.6 L2164.4 1463.7 L2166.0 1461.6 L2170.1 1462.1 L2168.0 1459.3 L2170.4 1458.1 L2170.0 1455.9 L2171.5 1454.3 L2171.4 1452.2 L2172.9 1450.7 L2172.6 1448.5 L2173.5 1446.8 L2173.9 1444.5 L2175.8 1443.6 L2176.7 1441.8 L2178.7 1442.2 L2179.7 1438.5 L2182.2 1440.1 L2183.6 1438.1 L2186.1 1438.9 L2186.6 1436.1 L2188.7 1436.2 L2190.2 1435.2 L2192.5 1434.9 L2192.7 1432.4 L2194.3 1431.2 L2195.5 1429.6 L2196.8 1428.4 L2198.4 1426.2 L2200.5 1427.9 L2202.3 1426.8 L2204.2 1426.9 L2204.9 1424.2 L2208.1 1425.3 L2209.1 1421.6 L2210.5 1424.8 L2210.1 1427.2 L2211.9 1428.7 L2211.7 1431.0 L2213.7 1432.5 L2211.6 1435.5 L2213.8 1435.5 L2216.1 1438.0 L2216.9 1433.7 L2219.6 1436.2 L2220.1 1434.2 L2221.8 1433.4 L2222.7 1430.2 L2225.7 1433.1 L2222.0 1436.6 L2226.9 1437.2 L2224.9 1440.2 L2226.1 1442.0 L2226.2 1444.2 L2227.0 1446.0 L2226.5 1448.0 L2227.4 1449.7 L2227.6 1451.6 L2228.5 1453.4 L2227.1 1455.5 L2231.0 1456.7 L2227.7 1459.4 L2229.8 1460.9 L2229.7 1463.2 L2231.5 1464.8 L2231.3 1467.1 L2232.1 1469.0 L2231.0 1471.6 L2233.5 1473.0 L2233.6 1475.3 L2235.4 1476.4 L2235.3 1479.1 L2238.2 1479.2 L2238.8 1481.5 L2240.3 1480.4 L2242.3 1481.2 L2244.3 1479.5 L2244.9 1481.7 L2247.6 1481.9 L2246.3 1485.7 L2248.7 1487.8 L2250.4 1484.7 L2249.4 1481.2 L2252.7 1480.8 L2253.0 1478.6 L2255.0 1477.0 L2253.2 1474.1 L2255.6 1472.7 L2255.3 1470.3 L2257.5 1468.7 L2256.5 1466.0 L2259.7 1465.4 L2258.1 1462.1 L2262.2 1462.0 L2261.0 1457.4 L2262.7 1460.2 L2263.3 1462.3 L2265.3 1463.1 L2266.0 1466.8 L2268.1 1464.6 L2269.9 1462.8 L2272.2 1462.7 L2273.1 1460.9 L2274.6 1459.6 L2274.7 1457.3 L2276.3 1455.9 L2276.9 1454.0 L2278.2 1452.2 L2278.2 1449.9 L2281.0 1448.8 L2279.9 1446.1 L2281.3 1444.6 L2281.5 1442.0 L2284.2 1441.7 L2284.5 1437.6 L2285.2 1441.1 L2283.9 1443.6 L2286.4 1444.8 L2286.3 1446.9 L2287.7 1448.5 L2288.2 1450.4 L2289.1 1452.1 L2289.3 1454.1 L2290.3 1455.8 L2289.5 1458.0 L2292.4 1459.2 L2290.2 1461.8 L2291.9 1463.3 L2291.8 1465.3 L2292.9 1467.0 L2291.4 1470.1 L2294.2 1470.4 L2294.8 1472.1 L2296.6 1473.1 L2296.6 1475.3 L2298.5 1476.3 L2299.0 1478.5 L2300.7 1479.6 L2301.8 1482.9 L2303.9 1480.7 L2304.2 1477.7 L2306.6 1477.7 L2308.0 1476.3 L2309.6 1475.1 L2308.9 1472.6 L2310.7 1471.5 L2309.4 1468.7 L2312.7 1468.4 L2312.2 1466.2 L2313.6 1464.4 L2313.7 1462.3 L2316.1 1460.7 L2314.0 1458.1 L2315.6 1456.3 L2315.4 1452.5 L2317.6 1453.7 L2318.1 1457.2 L2320.4 1458.1 L2322.9 1455.4 L2320.7 1452.5 L2323.3 1451.4 L2321.8 1448.7 L2323.8 1447.4 L2321.8 1444.6 L2324.7 1443.6 L2325.3 1440.1 L2327.5 1441.3 L2328.4 1443.9 L2331.1 1444.0 L2329.7 1446.4 L2331.9 1448.0 L2331.0 1450.3 L2332.1 1452.2 L2331.0 1454.5 L2332.3 1456.3 L2330.6 1458.7 L2333.5 1460.3 L2332.9 1462.5 L2334.2 1464.3 L2334.0 1468.0 L2334.2 1464.5 L2333.8 1462.5 L2334.9 1460.6 L2334.5 1458.6 L2336.3 1456.8 L2333.8 1454.6 L2335.9 1452.8 L2334.9 1450.7 L2335.8 1448.9 L2334.8 1446.8 L2336.7 1445.0 L2336.2 1443.0 L2338.8 1441.3 L2335.3 1438.9 L2337.4 1437.2 L2336.7 1435.1 L2338.8 1433.4 L2336.2 1431.2 L2338.6 1429.9 L2338.3 1427.4 L2340.3 1426.3 L2339.6 1423.5 L2341.8 1422.5 L2342.6 1419.1 L2343.7 1422.5 L2342.3 1424.8 L2343.7 1426.5 L2343.3 1428.6 L2344.2 1430.5 L2343.4 1432.6 L2345.0 1434.4 L2343.0 1436.7 L2345.8 1438.2 L2343.8 1440.6 L2348.5 1441.8 L2345.8 1444.2 L2346.9 1446.2 L2346.7 1448.2 L2347.5 1450.2 L2345.9 1452.4 L2347.3 1454.3 L2347.1 1456.4 L2348.6 1458.3 L2347.2 1460.5 L2348.0 1462.4 L2347.8 1464.5 L2348.7 1466.5 L2347.9 1468.6 L2348.8 1470.6 L2348.8 1474.2 L2349.9 1470.7 L2348.6 1468.4 L2350.3 1466.6 L2349.2 1464.3 L2351.0 1462.5 L2350.5 1460.3 L2352.0 1458.5 L2350.8 1456.2 L2352.1 1454.4 L2351.5 1452.1 L2353.4 1450.4 L2352.1 1448.1 L2354.9 1446.5 L2353.7 1444.2 L2354.2 1442.2 L2353.3 1440.2 L2354.6 1438.3 L2354.4 1436.3 L2355.3 1434.4 L2353.7 1432.3 L2356.1 1430.5 L2353.9 1428.3 L2355.7 1426.5 L2354.5 1424.4 L2355.7 1422.6 L2355.1 1420.5 L2356.3 1418.6 L2354.5 1416.5 L2357.8 1414.8 L2356.3 1412.7 L2356.9 1410.8 L2356.4 1408.7 L2357.4 1406.8 L2356.6 1404.8 L2358.0 1402.9 L2355.9 1400.4 L2358.5 1399.2 L2357.9 1397.0 L2359.1 1395.4 L2358.9 1393.3 L2360.9 1391.9 L2360.6 1388.2 L2361.3 1391.7 L2360.2 1393.9 L2362.7 1395.5 L2361.7 1397.7 L2363.8 1399.4 L2361.0 1401.9 L2363.2 1403.5 L2362.0 1405.8 L2364.1 1407.4 L2363.4 1409.6 L2364.1 1411.5 L2363.4 1413.6 L2364.4 1415.5 L2363.8 1417.6 L2365.4 1419.4 L2363.9 1421.5 L2365.9 1423.2 L2365.0 1425.3 L2366.4 1427.1 L2365.5 1429.2 L2366.7 1431.0 L2365.2 1433.1 L2368.9 1434.6 L2367.0 1436.8 L2367.8 1438.7 L2366.6 1440.8 L2368.0 1442.6 L2367.2 1444.7 L2368.6 1446.4 L2367.2 1448.6 L2369.1 1450.3 L2366.5 1452.7 L2370.2 1453.9 L2369.5 1455.9 L2370.2 1457.7 L2369.0 1459.8 L2371.2 1461.3 L2370.6 1463.4 L2371.1 1466.8 L2372.9 1463.3 L2371.0 1461.2 L2372.0 1459.3 L2370.5 1457.2 L2372.5 1455.3 L2370.4 1453.1 L2372.2 1451.3 L2370.9 1449.2 L2372.8 1447.3 L2371.9 1445.3 L2373.1 1443.4 L2372.0 1441.3 L2373.5 1439.4 L2372.3 1437.3 L2373.8 1435.4 L2372.6 1433.3 L2373.9 1431.4 L2372.7 1429.3 L2374.4 1427.5 L2373.2 1425.4 L2374.6 1423.5 L2373.5 1421.4 L2374.9 1419.5 L2374.2 1417.5 L2375.3 1415.7 L2373.8 1413.5 L2375.2 1411.8 L2374.6 1409.7 L2376.2 1408.0 L2373.9 1405.7 L2376.9 1404.1 L2374.7 1401.9 L2377.2 1400.3 L2375.6 1398.1 L2377.2 1396.4 L2376.5 1394.3 L2377.5 1392.5 L2376.6 1390.4 L2377.4 1388.6 L2376.7 1386.1 L2379.9 1385.2 L2379.0 1382.6 L2380.1 1380.8 L2379.6 1378.4 L2383.3 1377.6 L2381.7 1374.5 L2383.9 1373.5 L2384.9 1371.5 L2386.5 1370.0"/>
</g>
<!-- tick labels -->
<g class="sans" font-size="83" text-anchor="middle" fill="#000">
<text x="258.6" y="1702.8">4000</text>
<text x="562.3" y="1702.8">3500</text>
<text x="865.9" y="1702.8">3000</text>
<text x="1169.6" y="1702.8">2500</text>
<text x="1473.3" y="1702.8">2000</text>
<text x="1684.7" y="1702.8" text-anchor="start"><tspan dx="2.2">1</tspan><tspan dx="-2.2">500</tspan></text>
<text x="1988.3" y="1702.8" text-anchor="start"><tspan dx="2.2">1</tspan><tspan dx="-2.2">000</tspan></text>
<text x="2384.3" y="1702.8">500</text>
</g>
<g fill="#fff"><rect x="1681.9" y="1693.2" width="23.4" height="12"/><rect x="1718.2" y="1693.2" width="13.4" height="12"/><rect x="1985.5" y="1693.2" width="23.4" height="12"/><rect x="2021.8" y="1693.2" width="13.4" height="12"/></g>
<!-- axis titles -->
<text class="serif b" font-size="98" fill="#000" text-anchor="middle" transform="translate(81.5 794.5) rotate(-90)">Absorbance (a.u.)</text>
<text class="serif b" font-size="97" fill="#000" y="1870.5"><tspan x="1214.5" textLength="46.4" lengthAdjust="spacingAndGlyphs">ν</tspan><tspan> </tspan><tspan x="1284.5" dy="-2">(</tspan><tspan x="1321.5" dy="2" textLength="113.9" lengthAdjust="spacingAndGlyphs">cm</tspan><tspan x="1439.8" dy="-53" font-size="57">-1</tspan><tspan x="1488.5" dy="51">)</tspan></text>
<!-- legend -->
<rect x="381.2" y="70.2" width="680.7" height="397.4" fill="#fff" stroke="#1c1c1c" stroke-width="4.1"/>
<g fill="none" stroke-width="8.2" stroke-linecap="round">
<line x1="447" y1="158.8" x2="647" y2="158.8" stroke="#000"/>
<line x1="447" y1="262" x2="647" y2="262" stroke="#ff0000"/>
<line x1="447" y1="365.8" x2="647" y2="365.8" stroke="#00ff00"/>
</g>
<g class="serif" font-size="64" fill="#111">
<text x="672" y="178.4">1 wt.% ZrO<tspan font-size="39" dy="5">2</tspan></text>
<text x="668.5" y="281.6">2.5 wt.% ZrO<tspan font-size="39" dy="5">2</tspan></text>
<text x="672" y="385.5">5 wt.% ZrO<tspan font-size="39" dy="5">2</tspan></text>
</g>
<!-- annotations -->
<g class="serif" fill="#111">
<text class="b" font-size="70" x="1641.5" y="299.2"><tspan textLength="159.5" lengthAdjust="spacingAndGlyphs">SiCH</tspan><tspan x="1803" dy="27.8" font-size="37">3</tspan></text>
<text font-size="70" x="1642" y="392.4" textLength="182" lengthAdjust="spacingAndGlyphs">(1277)</text>
<text class="b" font-size="70" x="1926.5" y="426.5" textLength="166.5" lengthAdjust="spacingAndGlyphs">SiOSi</text>
<text class="b" font-size="70" x="2067.5" y="174.8" textLength="161.5" lengthAdjust="spacingAndGlyphs">SiOH</text>
<text font-size="70" x="2081.5" y="260.8" textLength="152" lengthAdjust="spacingAndGlyphs">(910)</text>
<text class="b" font-size="70" x="2191" y="361.6"><tspan textLength="160" lengthAdjust="spacingAndGlyphs">SiCH</tspan><tspan x="2353" dy="28" font-size="37">3</tspan></text>
<text font-size="70" x="2208.5" y="455" textLength="152.5" lengthAdjust="spacingAndGlyphs">(781)</text>
</g>
<line x1="1937.7" y1="453.5" x2="2070" y2="453.5" stroke="#111" stroke-width="3.4"/>
<g stroke="#161616" stroke-width="3.2" fill="#0c0c0c">
<line x1="1810.6" y1="340" x2="1902" y2="508.5"/>
<polygon stroke="none" points="1910.6,524.2 1890.9,502.6 1903.8,495.6"/>
<line x1="2137.7" y1="296" x2="2135.8" y2="512" stroke-width="3.6"/>
<polygon stroke="none" points="2135.6,538.4 2128.3,508 2143.1,508"/>
<line x1="2267.4" y1="483.9" x2="2241" y2="536" stroke-width="3"/>
<polygon stroke="none" points="2231.9,553.5 2235.3,525.8 2248.7,532.6"/>
</g>
</svg>
</body>
</html>
